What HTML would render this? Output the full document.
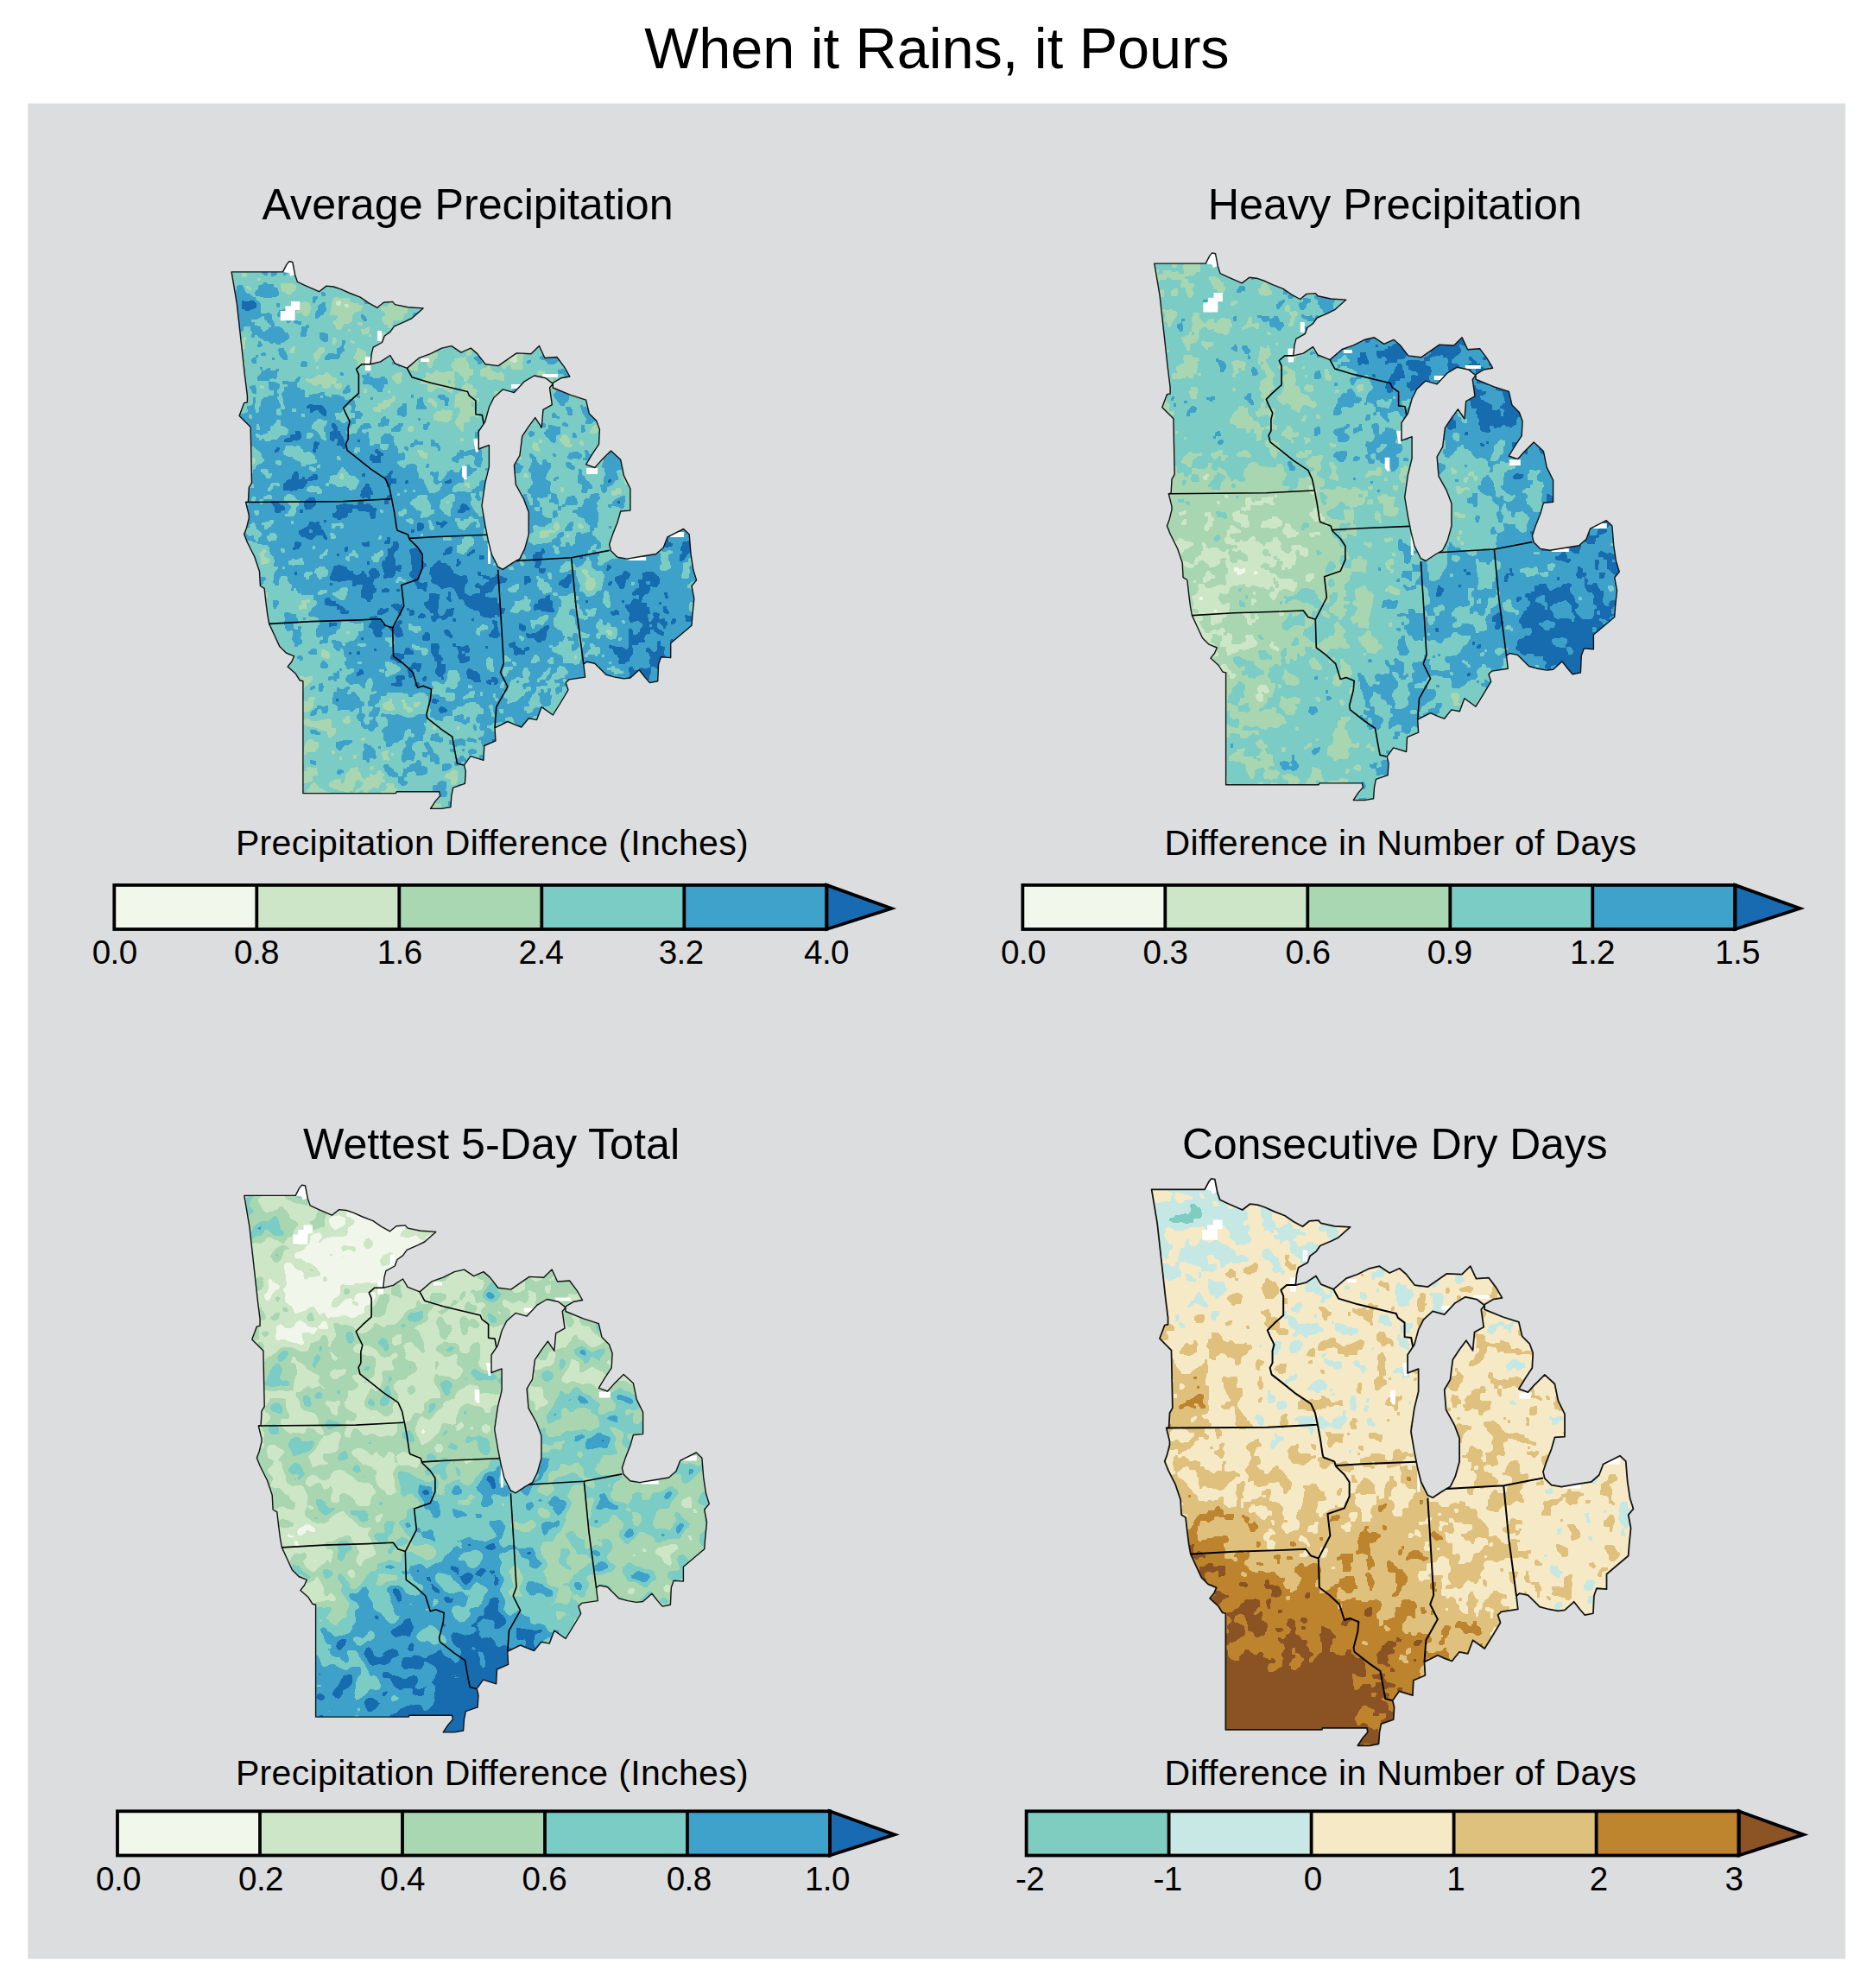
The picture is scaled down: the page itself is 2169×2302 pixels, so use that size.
<!DOCTYPE html>
<html><head><meta charset="utf-8"><title>When it Rains, it Pours</title>
<style>html,body{margin:0;padding:0;background:#fff}svg{display:block}text{font-family:"Liberation Sans",sans-serif;fill:#000}</style>
</head><body>
<svg width="2169" height="2302" viewBox="0 0 2169 2302">
<defs>
<clipPath id="clip"><path d="M0.0 -0.0 L59.4 -0.0 L64.1 -9.0 L66.9 -12.2 L70.7 -11.4 L73.5 3.1 L76.3 11.5 L86.5 16.2 L101.5 22.8 L109.9 16.2 L118.3 17.1 L126.7 19.9 L137.0 24.6 L149.1 29.3 L158.5 35.8 L168.8 41.4 L176.2 35.3 L186.5 34.5 L189.3 37.7 L204.3 40.9 L222.0 42.0 L208.9 53.6 L201.5 57.3 L188.4 62.9 L183.7 69.5 L177.2 74.1 L174.4 81.6 L164.1 87.2 L162.2 94.7 L160.9 106.8 L172.5 104.0 L183.7 96.6 L189.3 105.9 L203.3 111.5 L217.4 99.4 L230.4 94.7 L243.5 88.2 L254.7 85.7 L265.9 93.2 L277.1 88.2 L284.6 94.7 L294.0 106.8 L308.9 108.7 L330.1 94.0 L346.9 94.9 L356.3 85.6 L362.8 99.6 L376.8 98.6 L385.2 109.8 L391.8 121.1 L381.5 122.9 L372.2 128.5 L372.2 134.1 L392.7 142.5 L410.5 148.2 L414.2 164.0 L422.6 172.4 L426.3 182.7 L425.4 199.5 L417.9 210.8 L410.5 222.9 L420.7 226.6 L428.2 218.2 L439.4 207.0 L450.6 217.3 L454.4 236.0 L461.8 250.9 L461.8 276.2 L450.6 277.1 L446.9 290.2 L441.3 304.2 L437.6 315.4 L439.4 322.9 L446.9 330.3 L458.1 332.2 L474.9 329.4 L491.7 326.6 L500.2 319.1 L504.8 307.0 L523.5 297.6 L530.1 303.8 L531.9 326.2 L534.7 344.9 L538.5 357.0 L532.9 363.6 L535.7 378.5 L533.8 397.2 L532.9 409.4 L508.6 429.9 L508.6 446.7 L497.4 445.8 L494.5 454.2 L493.6 473.8 L484.3 475.7 L478.7 469.2 L472.1 460.8 L461.8 470.1 L454.4 471.0 L444.1 469.2 L433.8 466.4 L420.7 453.3 L411.4 451.4 L407.7 454.2 L409.5 469.2 L390.8 472.0 L387.1 475.7 L389.9 484.1 L381.5 498.1 L372.2 513.1 L359.1 503.7 L353.5 518.7 L344.1 516.8 L335.7 527.1 L328.2 524.3 L319.8 520.6 L304.9 528.0 L305.8 543.0 L292.7 548.6 L291.8 565.4 L276.8 560.7 L269.4 571.0 L271.2 578.5 L270.3 592.5 L256.6 597.2 L254.7 606.5 L253.8 619.6 L243.5 621.5 L230.4 621.5 L236.0 613.0 L241.6 606.5 L240.7 601.8 L191.2 601.8 L190.3 603.7 L82.8 603.7 L82.8 473.8 L79.1 472.9 L74.4 465.4 L65.1 457.0 L69.7 451.4 L72.5 444.9 L63.2 441.1 L55.7 433.7 L49.2 419.6 L43.6 407.5 L41.7 397.2 L39.8 382.3 L38.0 366.4 L33.3 363.6 L32.4 346.8 L26.7 329.9 L18.3 313.1 L14.6 303.8 L17.4 296.3 L20.2 285.1 L20.2 281.6 L16.5 266.6 L19.3 266.2 L20.2 249.8 L23.4 244.2 L22.1 179.7 L9.0 166.6 L14.6 151.7 L18.3 150.8 L18.3 143.3 L15.5 120.9 L11.8 87.2 L6.2 36.8Z M372.2 129.5 L363.7 122.9 L350.7 120.1 L339.4 126.7 L327.3 139.7 L314.2 136.0 L303.9 145.4 L298.3 156.6 L293.7 173.4 L286.2 184.6 L286.2 205.1 L298.3 200.5 L298.3 225.7 L293.7 244.4 L289.9 270.6 L293.7 293.0 L297.4 311.7 L301.1 326.6 L308.6 341.6 L314.2 344.4 L325.4 336.9 L333.8 332.2 L339.4 321.0 L344.1 304.2 L344.1 278.0 L338.5 263.1 L329.2 246.3 L327.3 223.8 L333.8 212.6 L336.6 190.2 L344.1 179.0 L351.6 168.7 L359.1 179.9 L360.9 159.4 L371.2 153.8 L368.4 134.1Z" clip-rule="evenodd"/></clipPath>
<filter id="f1" filterUnits="userSpaceOnUse" x="-20" y="-30" width="590" height="680" color-interpolation-filters="sRGB">
<feGaussianBlur in="SourceGraphic" stdDeviation="16" result="field"/>
<feTurbulence type="turbulence" baseFrequency="0.035" numOctaves="3" seed="3" result="n1"/>
<feColorMatrix in="n1" type="matrix" values="0.5 -0.5 0 0 0.5 0.5 -0.5 0 0 0.5 0.5 -0.5 0 0 0.5 0 0 0 0 1" result="ng"/>
<feComposite in="field" in2="ng" operator="arithmetic" k1="0" k2="1" k3="0.85" k4="-0.4000" result="sum"/><feMorphology in="sum" operator="erode" radius="1" result="m1"/><feMorphology in="m1" operator="dilate" radius="2" result="m2"/><feMorphology in="m2" operator="erode" radius="1" result="m3"/>
<feComponentTransfer in="m3"><feFuncR type="discrete" tableValues="0.945 0.945 0.945 0.800 0.800 0.800 0.659 0.659 0.659 0.482 0.482 0.482 0.243 0.243 0.243 0.094 0.094 0.094"/><feFuncG type="discrete" tableValues="0.969 0.969 0.969 0.902 0.902 0.902 0.843 0.843 0.843 0.800 0.800 0.800 0.635 0.635 0.635 0.420 0.420 0.420"/><feFuncB type="discrete" tableValues="0.918 0.918 0.918 0.780 0.780 0.780 0.698 0.698 0.698 0.769 0.769 0.769 0.796 0.796 0.796 0.690 0.690 0.690"/></feComponentTransfer>
</filter>
<filter id="f2" filterUnits="userSpaceOnUse" x="-20" y="-30" width="590" height="680" color-interpolation-filters="sRGB">
<feGaussianBlur in="SourceGraphic" stdDeviation="16" result="field"/>
<feTurbulence type="turbulence" baseFrequency="0.035" numOctaves="3" seed="7" result="n1"/>
<feColorMatrix in="n1" type="matrix" values="0.5 -0.5 0 0 0.5 0.5 -0.5 0 0 0.5 0.5 -0.5 0 0 0.5 0 0 0 0 1" result="ng"/>
<feComposite in="field" in2="ng" operator="arithmetic" k1="0" k2="1" k3="0.72" k4="-0.3600" result="sum"/><feMorphology in="sum" operator="erode" radius="1" result="m1"/><feMorphology in="m1" operator="dilate" radius="2" result="m2"/><feMorphology in="m2" operator="erode" radius="1" result="m3"/>
<feComponentTransfer in="m3"><feFuncR type="discrete" tableValues="0.945 0.945 0.945 0.800 0.800 0.800 0.659 0.659 0.659 0.482 0.482 0.482 0.243 0.243 0.243 0.094 0.094 0.094"/><feFuncG type="discrete" tableValues="0.969 0.969 0.969 0.902 0.902 0.902 0.843 0.843 0.843 0.800 0.800 0.800 0.635 0.635 0.635 0.420 0.420 0.420"/><feFuncB type="discrete" tableValues="0.918 0.918 0.918 0.780 0.780 0.780 0.698 0.698 0.698 0.769 0.769 0.769 0.796 0.796 0.796 0.690 0.690 0.690"/></feComponentTransfer>
</filter>
<filter id="f3" filterUnits="userSpaceOnUse" x="-20" y="-30" width="590" height="680" color-interpolation-filters="sRGB">
<feGaussianBlur in="SourceGraphic" stdDeviation="16" result="field"/>
<feTurbulence type="fractalNoise" baseFrequency="0.04" numOctaves="2" seed="11" result="noise"/>
<feColorMatrix in="noise" type="matrix" values="1 0 0 0 0 1 0 0 0 0 1 0 0 0 0 0 0 0 0 1" result="ng"/><feComponentTransfer in="ng" result="ngg"><feFuncR type="gamma" exponent="2.0"/><feFuncG type="gamma" exponent="2.0"/><feFuncB type="gamma" exponent="2.0"/></feComponentTransfer>
<feComposite in="field" in2="ngg" operator="arithmetic" k1="0" k2="1" k3="0.72" k4="-0.1633" result="sum"/>
<feComponentTransfer in="sum"><feFuncR type="discrete" tableValues="0.945 0.945 0.945 0.800 0.800 0.800 0.659 0.659 0.659 0.482 0.482 0.482 0.243 0.243 0.243 0.094 0.094 0.094"/><feFuncG type="discrete" tableValues="0.969 0.969 0.969 0.902 0.902 0.902 0.843 0.843 0.843 0.800 0.800 0.800 0.635 0.635 0.635 0.420 0.420 0.420"/><feFuncB type="discrete" tableValues="0.918 0.918 0.918 0.780 0.780 0.780 0.698 0.698 0.698 0.769 0.769 0.769 0.796 0.796 0.796 0.690 0.690 0.690"/></feComponentTransfer>
</filter>
<filter id="f4" filterUnits="userSpaceOnUse" x="-20" y="-30" width="590" height="680" color-interpolation-filters="sRGB">
<feGaussianBlur in="SourceGraphic" stdDeviation="16" result="field"/>
<feTurbulence type="fractalNoise" baseFrequency="0.048" numOctaves="3" seed="5" result="noise"/>
<feColorMatrix in="noise" type="matrix" values="1 0 0 0 0 1 0 0 0 0 1 0 0 0 0 0 0 0 0 1" result="ng"/><feComponentTransfer in="ng" result="ngg"><feFuncR type="table" tableValues="0.1 0.1 0.12 0.16 0.2 0.27 0.42 0.52 0.55 0.56 0.56"/><feFuncG type="table" tableValues="0.1 0.1 0.12 0.16 0.2 0.27 0.42 0.52 0.55 0.56 0.56"/><feFuncB type="table" tableValues="0.1 0.1 0.12 0.16 0.2 0.27 0.42 0.52 0.55 0.56 0.56"/></feComponentTransfer>
<feComposite in="field" in2="ngg" operator="arithmetic" k1="0" k2="1" k3="0.6" k4="-0.1670" result="sum"/><feMorphology in="sum" operator="erode" radius="1" result="m1"/><feMorphology in="m1" operator="dilate" radius="2" result="m2"/><feMorphology in="m2" operator="erode" radius="1" result="m3"/>
<feComponentTransfer in="m3"><feFuncR type="discrete" tableValues="0.498 0.498 0.498 0.780 0.780 0.780 0.965 0.965 0.965 0.875 0.875 0.875 0.749 0.749 0.749 0.549 0.549 0.549"/><feFuncG type="discrete" tableValues="0.804 0.804 0.804 0.910 0.910 0.910 0.914 0.914 0.914 0.757 0.757 0.757 0.518 0.518 0.518 0.329 0.329 0.329"/><feFuncB type="discrete" tableValues="0.753 0.753 0.753 0.898 0.898 0.898 0.773 0.773 0.773 0.494 0.494 0.494 0.180 0.180 0.180 0.141 0.141 0.141"/></feComponentTransfer>
</filter>
</defs>
<rect x="0" y="0" width="2169" height="2302" fill="#fff"/>
<rect x="32.3" y="119.7" width="2104.7" height="2148.5" fill="#dcddde"/>
<text x="1085" y="79" font-size="66.6" text-anchor="middle">When it Rains, it Pours</text>
<text x="541.6" y="253.8" font-size="50.2" text-anchor="middle">Average Precipitation</text>
<text x="1615.3" y="253.8" font-size="50.3" text-anchor="middle">Heavy Precipitation</text>
<text x="569" y="1341.5" font-size="50.2" text-anchor="middle">Wettest 5-Day Total</text>
<text x="1615.3" y="1341.7" font-size="49.8" text-anchor="middle">Consecutive Dry Days</text>
<text x="570" y="989.7" font-size="41" text-anchor="middle" letter-spacing="0.35">Precipitation Difference (Inches)</text>
<text x="1622" y="989.7" font-size="41" text-anchor="middle" letter-spacing="0.35">Difference in Number of Days</text>
<text x="570" y="2067.4" font-size="41" text-anchor="middle" letter-spacing="0.35">Precipitation Difference (Inches)</text>
<text x="1622" y="2067.4" font-size="41" text-anchor="middle" letter-spacing="0.35">Difference in Number of Days</text>

<g transform="translate(268.1 314.9) scale(1.0)">
<g clip-path="url(#clip)"><g filter="url(#f1)"><rect x="-60" y="-80" width="700" height="800" fill="#999999"/><rect x="-70" y="-80" width="100.5" height="100.5" fill="#909090"/><rect x="30" y="-80" width="40.5" height="100.5" fill="#a2a2a2"/><rect x="70" y="-80" width="40.5" height="100.5" fill="#959595"/><rect x="110" y="-80" width="40.5" height="100.5" fill="#8c8c8c"/><rect x="150" y="-80" width="40.5" height="100.5" fill="#808080"/><rect x="190" y="-80" width="80.5" height="100.5" fill="#8c8c8c"/><rect x="270" y="-80" width="80.5" height="100.5" fill="#808080"/><rect x="350" y="-80" width="280.5" height="100.5" fill="#888888"/><rect x="-70" y="20" width="140.5" height="40.5" fill="#a6a6a6"/><rect x="70" y="20" width="40.5" height="40.5" fill="#888888"/><rect x="110" y="20" width="40.5" height="40.5" fill="#848484"/><rect x="150" y="20" width="40.5" height="40.5" fill="#808080"/><rect x="190" y="20" width="40.5" height="40.5" fill="#8c8c8c"/><rect x="230" y="20" width="40.5" height="40.5" fill="#868686"/><rect x="270" y="20" width="80.5" height="40.5" fill="#808080"/><rect x="350" y="20" width="280.5" height="40.5" fill="#888888"/><rect x="-70" y="60" width="100.5" height="40.5" fill="#959595"/><rect x="30" y="60" width="40.5" height="40.5" fill="#a2a2a2"/><rect x="70" y="60" width="40.5" height="40.5" fill="#8c8c8c"/><rect x="110" y="60" width="80.5" height="40.5" fill="#848484"/><rect x="190" y="60" width="160.5" height="40.5" fill="#808080"/><rect x="350" y="60" width="120.5" height="40.5" fill="#888888"/><rect x="470" y="60" width="160.5" height="40.5" fill="#8c8c8c"/><rect x="-70" y="100" width="100.5" height="40.5" fill="#999999"/><rect x="30" y="100" width="40.5" height="40.5" fill="#9d9d9d"/><rect x="70" y="100" width="40.5" height="40.5" fill="#999999"/><rect x="110" y="100" width="40.5" height="40.5" fill="#8c8c8c"/><rect x="150" y="100" width="40.5" height="40.5" fill="#909090"/><rect x="190" y="100" width="40.5" height="40.5" fill="#848484"/><rect x="230" y="100" width="40.5" height="40.5" fill="#7b7b7b"/><rect x="270" y="100" width="80.5" height="40.5" fill="#848484"/><rect x="350" y="100" width="40.5" height="40.5" fill="#999999"/><rect x="390" y="100" width="40.5" height="40.5" fill="#939393"/><rect x="430" y="100" width="200.5" height="40.5" fill="#8c8c8c"/><rect x="-70" y="140" width="100.5" height="40.5" fill="#9d9d9d"/><rect x="30" y="140" width="40.5" height="40.5" fill="#a6a6a6"/><rect x="70" y="140" width="40.5" height="40.5" fill="#aeaeae"/><rect x="110" y="140" width="40.5" height="40.5" fill="#aaaaaa"/><rect x="150" y="140" width="40.5" height="40.5" fill="#999999"/><rect x="190" y="140" width="40.5" height="40.5" fill="#959595"/><rect x="230" y="140" width="80.5" height="40.5" fill="#808080"/><rect x="310" y="140" width="40.5" height="40.5" fill="#8c8c8c"/><rect x="350" y="140" width="40.5" height="40.5" fill="#999999"/><rect x="390" y="140" width="120.5" height="40.5" fill="#8c8c8c"/><rect x="510" y="140" width="120.5" height="40.5" fill="#959595"/><rect x="-70" y="180" width="100.5" height="40.5" fill="#a6a6a6"/><rect x="30" y="180" width="40.5" height="40.5" fill="#b7b7b7"/><rect x="70" y="180" width="40.5" height="40.5" fill="#b3b3b3"/><rect x="110" y="180" width="40.5" height="40.5" fill="#b7b7b7"/><rect x="150" y="180" width="40.5" height="40.5" fill="#a2a2a2"/><rect x="190" y="180" width="40.5" height="40.5" fill="#9d9d9d"/><rect x="230" y="180" width="40.5" height="40.5" fill="#909090"/><rect x="270" y="180" width="40.5" height="40.5" fill="#8c8c8c"/><rect x="310" y="180" width="80.5" height="40.5" fill="#959595"/><rect x="390" y="180" width="40.5" height="40.5" fill="#8c8c8c"/><rect x="430" y="180" width="40.5" height="40.5" fill="#909090"/><rect x="470" y="180" width="160.5" height="40.5" fill="#959595"/><rect x="-70" y="220" width="100.5" height="40.5" fill="#a2a2a2"/><rect x="30" y="220" width="80.5" height="40.5" fill="#b3b3b3"/><rect x="110" y="220" width="40.5" height="40.5" fill="#b7b7b7"/><rect x="150" y="220" width="40.5" height="40.5" fill="#b3b3b3"/><rect x="190" y="220" width="120.5" height="40.5" fill="#aaaaaa"/><rect x="310" y="220" width="40.5" height="40.5" fill="#9d9d9d"/><rect x="350" y="220" width="40.5" height="40.5" fill="#a6a6a6"/><rect x="390" y="220" width="40.5" height="40.5" fill="#999999"/><rect x="430" y="220" width="80.5" height="40.5" fill="#959595"/><rect x="510" y="220" width="120.5" height="40.5" fill="#acacac"/><rect x="-70" y="260" width="100.5" height="40.5" fill="#a6a6a6"/><rect x="30" y="260" width="40.5" height="40.5" fill="#b3b3b3"/><rect x="70" y="260" width="80.5" height="40.5" fill="#bbbbbb"/><rect x="150" y="260" width="40.5" height="40.5" fill="#b7b7b7"/><rect x="190" y="260" width="40.5" height="40.5" fill="#a6a6a6"/><rect x="230" y="260" width="120.5" height="40.5" fill="#a2a2a2"/><rect x="350" y="260" width="40.5" height="40.5" fill="#a6a6a6"/><rect x="390" y="260" width="40.5" height="40.5" fill="#999999"/><rect x="430" y="260" width="40.5" height="40.5" fill="#959595"/><rect x="470" y="260" width="40.5" height="40.5" fill="#a6a6a6"/><rect x="510" y="260" width="120.5" height="40.5" fill="#c3c3c3"/><rect x="-70" y="300" width="100.5" height="40.5" fill="#9d9d9d"/><rect x="30" y="300" width="40.5" height="40.5" fill="#aeaeae"/><rect x="70" y="300" width="40.5" height="40.5" fill="#b7b7b7"/><rect x="110" y="300" width="40.5" height="40.5" fill="#bbbbbb"/><rect x="150" y="300" width="160.5" height="40.5" fill="#bfbfbf"/><rect x="310" y="300" width="40.5" height="40.5" fill="#b3b3b3"/><rect x="350" y="300" width="40.5" height="40.5" fill="#a6a6a6"/><rect x="390" y="300" width="40.5" height="40.5" fill="#a2a2a2"/><rect x="430" y="300" width="40.5" height="40.5" fill="#aeaeae"/><rect x="470" y="300" width="40.5" height="40.5" fill="#b7b7b7"/><rect x="510" y="300" width="120.5" height="40.5" fill="#c3c3c3"/><rect x="-70" y="340" width="100.5" height="40.5" fill="#909090"/><rect x="30" y="340" width="40.5" height="40.5" fill="#a2a2a2"/><rect x="70" y="340" width="40.5" height="40.5" fill="#aeaeae"/><rect x="110" y="340" width="40.5" height="40.5" fill="#b7b7b7"/><rect x="150" y="340" width="40.5" height="40.5" fill="#c3c3c3"/><rect x="190" y="340" width="40.5" height="40.5" fill="#d0d0d0"/><rect x="230" y="340" width="40.5" height="40.5" fill="#cccccc"/><rect x="270" y="340" width="40.5" height="40.5" fill="#c8c8c8"/><rect x="310" y="340" width="40.5" height="40.5" fill="#b7b7b7"/><rect x="350" y="340" width="40.5" height="40.5" fill="#aeaeae"/><rect x="390" y="340" width="40.5" height="40.5" fill="#a6a6a6"/><rect x="430" y="340" width="40.5" height="40.5" fill="#b3b3b3"/><rect x="470" y="340" width="40.5" height="40.5" fill="#c8c8c8"/><rect x="510" y="340" width="120.5" height="40.5" fill="#b7b7b7"/><rect x="-70" y="380" width="100.5" height="40.5" fill="#8c8c8c"/><rect x="30" y="380" width="40.5" height="40.5" fill="#888888"/><rect x="70" y="380" width="40.5" height="40.5" fill="#a6a6a6"/><rect x="110" y="380" width="40.5" height="40.5" fill="#b3b3b3"/><rect x="150" y="380" width="120.5" height="40.5" fill="#cccccc"/><rect x="270" y="380" width="40.5" height="40.5" fill="#c3c3c3"/><rect x="310" y="380" width="40.5" height="40.5" fill="#bfbfbf"/><rect x="350" y="380" width="40.5" height="40.5" fill="#aeaeae"/><rect x="390" y="380" width="40.5" height="40.5" fill="#a6a6a6"/><rect x="430" y="380" width="40.5" height="40.5" fill="#bbbbbb"/><rect x="470" y="380" width="40.5" height="40.5" fill="#cccccc"/><rect x="510" y="380" width="120.5" height="40.5" fill="#c3c3c3"/><rect x="-70" y="420" width="140.5" height="40.5" fill="#808080"/><rect x="70" y="420" width="40.5" height="40.5" fill="#909090"/><rect x="110" y="420" width="40.5" height="40.5" fill="#a6a6a6"/><rect x="150" y="420" width="40.5" height="40.5" fill="#bbbbbb"/><rect x="190" y="420" width="80.5" height="40.5" fill="#c8c8c8"/><rect x="270" y="420" width="40.5" height="40.5" fill="#c3c3c3"/><rect x="310" y="420" width="40.5" height="40.5" fill="#aeaeae"/><rect x="350" y="420" width="40.5" height="40.5" fill="#aaaaaa"/><rect x="390" y="420" width="40.5" height="40.5" fill="#b3b3b3"/><rect x="430" y="420" width="40.5" height="40.5" fill="#c8c8c8"/><rect x="470" y="420" width="40.5" height="40.5" fill="#cccccc"/><rect x="510" y="420" width="120.5" height="40.5" fill="#c8c8c8"/><rect x="-70" y="460" width="100.5" height="40.5" fill="#808080"/><rect x="30" y="460" width="40.5" height="40.5" fill="#848484"/><rect x="70" y="460" width="40.5" height="40.5" fill="#888888"/><rect x="110" y="460" width="40.5" height="40.5" fill="#9d9d9d"/><rect x="150" y="460" width="40.5" height="40.5" fill="#aaaaaa"/><rect x="190" y="460" width="40.5" height="40.5" fill="#aeaeae"/><rect x="230" y="460" width="80.5" height="40.5" fill="#aaaaaa"/><rect x="310" y="460" width="40.5" height="40.5" fill="#a2a2a2"/><rect x="350" y="460" width="40.5" height="40.5" fill="#9d9d9d"/><rect x="390" y="460" width="40.5" height="40.5" fill="#a8a8a8"/><rect x="430" y="460" width="40.5" height="40.5" fill="#c8c8c8"/><rect x="470" y="460" width="160.5" height="40.5" fill="#cccccc"/><rect x="-70" y="500" width="180.5" height="40.5" fill="#848484"/><rect x="110" y="500" width="40.5" height="40.5" fill="#959595"/><rect x="150" y="500" width="80.5" height="40.5" fill="#9d9d9d"/><rect x="230" y="500" width="80.5" height="40.5" fill="#a2a2a2"/><rect x="310" y="500" width="40.5" height="40.5" fill="#b7b7b7"/><rect x="350" y="500" width="80.5" height="40.5" fill="#959595"/><rect x="430" y="500" width="40.5" height="40.5" fill="#aeaeae"/><rect x="470" y="500" width="160.5" height="40.5" fill="#cccccc"/><rect x="-70" y="540" width="180.5" height="40.5" fill="#808080"/><rect x="110" y="540" width="40.5" height="40.5" fill="#888888"/><rect x="150" y="540" width="40.5" height="40.5" fill="#909090"/><rect x="190" y="540" width="40.5" height="40.5" fill="#999999"/><rect x="230" y="540" width="80.5" height="40.5" fill="#a2a2a2"/><rect x="310" y="540" width="40.5" height="40.5" fill="#acacac"/><rect x="350" y="540" width="120.5" height="40.5" fill="#959595"/><rect x="470" y="540" width="160.5" height="40.5" fill="#cccccc"/><rect x="-70" y="580" width="220.5" height="120.5" fill="#808080"/><rect x="150" y="580" width="40.5" height="120.5" fill="#888888"/><rect x="190" y="580" width="40.5" height="120.5" fill="#909090"/><rect x="230" y="580" width="40.5" height="120.5" fill="#8c8c8c"/><rect x="270" y="580" width="40.5" height="120.5" fill="#979797"/><rect x="310" y="580" width="40.5" height="120.5" fill="#a2a2a2"/><rect x="350" y="580" width="160.5" height="120.5" fill="#959595"/><rect x="510" y="580" width="120.5" height="120.5" fill="#cccccc"/></g><path d="M56.6 45.2 L62.3 45.2 L62.3 39.6 L68.8 39.6 L68.8 34.0 L79.1 34.0 L79.1 44.2 L73.5 44.2 L73.5 56.4 L56.6 56.4Z M60.0 -0.0 L64.1 -9.0 L66.9 -12.2 L70.7 -11.4 L73.1 3.1 L67.9 5.0 L66.9 1.3Z M154.8 98.4 L161.3 98.4 L161.3 114.3 L154.8 114.3Z M266.9 224.6 L272.5 224.6 L272.5 240.4 L269.7 240.4 L266.9 236.7Z M280.0 193.7 L285.6 193.7 L285.6 208.7 L282.8 208.7Z M324.0 130.0 L336.0 130.0 L336.0 135.0 L324.0 135.0Z M360.0 118.0 L378.0 118.0 L378.0 122.0 L360.0 122.0Z M219.0 100.0 L229.0 100.0 L229.0 104.0 L219.0 104.0Z M411.0 227.0 L424.0 227.0 L424.0 234.0 L411.0 234.0Z M460.0 330.0 L480.0 330.0 L480.0 334.0 L460.0 334.0Z M508.0 301.0 L524.0 301.0 L524.0 307.0 L508.0 307.0Z M297.0 314.0 L300.0 314.0 L300.0 338.0 L297.0 338.0Z M169.0 68.0 L174.0 68.0 L174.0 80.0 L169.0 80.0Z" fill="#fff"/></g>
<path d="M0.0 -0.0 L59.4 -0.0 L64.1 -9.0 L66.9 -12.2 L70.7 -11.4 L73.5 3.1 L76.3 11.5 L86.5 16.2 L101.5 22.8 L109.9 16.2 L118.3 17.1 L126.7 19.9 L137.0 24.6 L149.1 29.3 L158.5 35.8 L168.8 41.4 L176.2 35.3 L186.5 34.5 L189.3 37.7 L204.3 40.9 L222.0 42.0 L208.9 53.6 L201.5 57.3 L188.4 62.9 L183.7 69.5 L177.2 74.1 L174.4 81.6 L164.1 87.2 L162.2 94.7 L160.9 106.8 L172.5 104.0 L183.7 96.6 L189.3 105.9 L203.3 111.5 L217.4 99.4 L230.4 94.7 L243.5 88.2 L254.7 85.7 L265.9 93.2 L277.1 88.2 L284.6 94.7 L294.0 106.8 L308.9 108.7 L330.1 94.0 L346.9 94.9 L356.3 85.6 L362.8 99.6 L376.8 98.6 L385.2 109.8 L391.8 121.1 L381.5 122.9 L372.2 128.5 L372.2 134.1 L392.7 142.5 L410.5 148.2 L414.2 164.0 L422.6 172.4 L426.3 182.7 L425.4 199.5 L417.9 210.8 L410.5 222.9 L420.7 226.6 L428.2 218.2 L439.4 207.0 L450.6 217.3 L454.4 236.0 L461.8 250.9 L461.8 276.2 L450.6 277.1 L446.9 290.2 L441.3 304.2 L437.6 315.4 L439.4 322.9 L446.9 330.3 L458.1 332.2 L474.9 329.4 L491.7 326.6 L500.2 319.1 L504.8 307.0 L523.5 297.6 L530.1 303.8 L531.9 326.2 L534.7 344.9 L538.5 357.0 L532.9 363.6 L535.7 378.5 L533.8 397.2 L532.9 409.4 L508.6 429.9 L508.6 446.7 L497.4 445.8 L494.5 454.2 L493.6 473.8 L484.3 475.7 L478.7 469.2 L472.1 460.8 L461.8 470.1 L454.4 471.0 L444.1 469.2 L433.8 466.4 L420.7 453.3 L411.4 451.4 L407.7 454.2 L409.5 469.2 L390.8 472.0 L387.1 475.7 L389.9 484.1 L381.5 498.1 L372.2 513.1 L359.1 503.7 L353.5 518.7 L344.1 516.8 L335.7 527.1 L328.2 524.3 L319.8 520.6 L304.9 528.0 L305.8 543.0 L292.7 548.6 L291.8 565.4 L276.8 560.7 L269.4 571.0 L271.2 578.5 L270.3 592.5 L256.6 597.2 L254.7 606.5 L253.8 619.6 L243.5 621.5 L230.4 621.5 L236.0 613.0 L241.6 606.5 L240.7 601.8 L191.2 601.8 L190.3 603.7 L82.8 603.7 L82.8 473.8 L79.1 472.9 L74.4 465.4 L65.1 457.0 L69.7 451.4 L72.5 444.9 L63.2 441.1 L55.7 433.7 L49.2 419.6 L43.6 407.5 L41.7 397.2 L39.8 382.3 L38.0 366.4 L33.3 363.6 L32.4 346.8 L26.7 329.9 L18.3 313.1 L14.6 303.8 L17.4 296.3 L20.2 285.1 L20.2 281.6 L16.5 266.6 L19.3 266.2 L20.2 249.8 L23.4 244.2 L22.1 179.7 L9.0 166.6 L14.6 151.7 L18.3 150.8 L18.3 143.3 L15.5 120.9 L11.8 87.2 L6.2 36.8Z M372.2 129.5 L363.7 122.9 L350.7 120.1 L339.4 126.7 L327.3 139.7 L314.2 136.0 L303.9 145.4 L298.3 156.6 L293.7 173.4 L286.2 184.6 L286.2 205.1 L298.3 200.5 L298.3 225.7 L293.7 244.4 L289.9 270.6 L293.7 293.0 L297.4 311.7 L301.1 326.6 L308.6 341.6 L314.2 344.4 L325.4 336.9 L333.8 332.2 L339.4 321.0 L344.1 304.2 L344.1 278.0 L338.5 263.1 L329.2 246.3 L327.3 223.8 L333.8 212.6 L336.6 190.2 L344.1 179.0 L351.6 168.7 L359.1 179.9 L360.9 159.4 L371.2 153.8 L368.4 134.1Z" fill="none" stroke="#111" stroke-width="1.4" stroke-linejoin="round"/>
<path d="M16.5 266.6 L129.5 265.7 L184.6 262.9 M160.9 106.8 L151.0 106.8 L144.5 112.4 L147.3 119.0 L147.3 140.5 L137.0 149.8 L129.5 157.3 L132.3 163.8 L137.0 173.2 L135.1 180.7 L135.1 193.7 L132.3 199.3 L134.2 206.8 L146.3 216.2 L161.3 228.3 L178.1 239.5 L182.8 249.8 L185.6 262.9 L188.4 277.8 L191.2 296.5 L192.1 299.3 L204.3 304.0 L206.1 309.6 L215.5 318.7 L221.1 327.1 L221.1 343.0 L215.5 356.1 L196.8 362.6 L199.6 386.9 L186.5 412.2 L187.5 444.9 L198.7 453.3 L209.9 463.6 L215.5 481.3 L222.0 479.4 L231.4 483.2 L230.4 494.4 L225.8 512.1 L226.7 516.8 L243.5 529.9 L255.7 538.3 L258.5 554.2 L261.3 569.1 L268.7 571.0 M43.6 407.5 L92.2 404.7 L142.6 403.2 L172.5 401.9 L178.1 409.4 L186.5 412.2 M203.3 111.5 L208.9 121.8 L230.4 128.3 L273.4 138.6 L275.3 143.3 L282.8 148.9 L282.8 164.8 L290.2 165.7 L292.1 176.0 M206.1 308.5 L238.8 306.6 L295.8 304.3 M308.6 344.9 L311.4 389.7 L315.2 453.3 L311.4 463.6 L319.8 480.4 L306.7 503.7 L304.9 528.0 M329.2 334.6 L393.6 330.9 L437.6 322.5 M393.6 331.8 L399.2 389.7 L403.9 425.2 L407.7 454.2" fill="none" stroke="#000" stroke-width="1.6" stroke-linejoin="round"/>
</g>
<g transform="translate(1336.8 305.1) scale(1.0)">
<g clip-path="url(#clip)"><g filter="url(#f2)"><rect x="-60" y="-80" width="700" height="800" fill="#808080"/><rect x="-70" y="-80" width="100.5" height="100.5" fill="#848484"/><rect x="30" y="-80" width="80.5" height="100.5" fill="#909090"/><rect x="110" y="-80" width="40.5" height="100.5" fill="#939393"/><rect x="150" y="-80" width="40.5" height="100.5" fill="#a2a2a2"/><rect x="190" y="-80" width="80.5" height="100.5" fill="#a6a6a6"/><rect x="270" y="-80" width="40.5" height="100.5" fill="#c3c3c3"/><rect x="310" y="-80" width="40.5" height="100.5" fill="#cccccc"/><rect x="350" y="-80" width="280.5" height="100.5" fill="#d9d9d9"/><rect x="-70" y="20" width="100.5" height="40.5" fill="#808080"/><rect x="30" y="20" width="40.5" height="40.5" fill="#909090"/><rect x="70" y="20" width="40.5" height="40.5" fill="#939393"/><rect x="110" y="20" width="40.5" height="40.5" fill="#959595"/><rect x="150" y="20" width="40.5" height="40.5" fill="#a2a2a2"/><rect x="190" y="20" width="40.5" height="40.5" fill="#a6a6a6"/><rect x="230" y="20" width="40.5" height="40.5" fill="#b7b7b7"/><rect x="270" y="20" width="40.5" height="40.5" fill="#c3c3c3"/><rect x="310" y="20" width="40.5" height="40.5" fill="#cccccc"/><rect x="350" y="20" width="280.5" height="40.5" fill="#d9d9d9"/><rect x="-70" y="60" width="100.5" height="40.5" fill="#808080"/><rect x="30" y="60" width="40.5" height="40.5" fill="#909090"/><rect x="70" y="60" width="80.5" height="40.5" fill="#959595"/><rect x="150" y="60" width="40.5" height="40.5" fill="#a2a2a2"/><rect x="190" y="60" width="40.5" height="40.5" fill="#bfbfbf"/><rect x="230" y="60" width="40.5" height="40.5" fill="#c8c8c8"/><rect x="270" y="60" width="40.5" height="40.5" fill="#c3c3c3"/><rect x="310" y="60" width="40.5" height="40.5" fill="#cccccc"/><rect x="350" y="60" width="120.5" height="40.5" fill="#d9d9d9"/><rect x="470" y="60" width="160.5" height="40.5" fill="#dddddd"/><rect x="-70" y="100" width="100.5" height="40.5" fill="#888888"/><rect x="30" y="100" width="40.5" height="40.5" fill="#8e8e8e"/><rect x="70" y="100" width="80.5" height="40.5" fill="#999999"/><rect x="150" y="100" width="40.5" height="40.5" fill="#8c8c8c"/><rect x="190" y="100" width="40.5" height="40.5" fill="#999999"/><rect x="230" y="100" width="40.5" height="40.5" fill="#c3c3c3"/><rect x="270" y="100" width="40.5" height="40.5" fill="#d9d9d9"/><rect x="310" y="100" width="40.5" height="40.5" fill="#dddddd"/><rect x="350" y="100" width="40.5" height="40.5" fill="#d9d9d9"/><rect x="390" y="100" width="40.5" height="40.5" fill="#dbdbdb"/><rect x="430" y="100" width="200.5" height="40.5" fill="#dddddd"/><rect x="-70" y="140" width="100.5" height="40.5" fill="#8c8c8c"/><rect x="30" y="140" width="80.5" height="40.5" fill="#959595"/><rect x="110" y="140" width="40.5" height="40.5" fill="#909090"/><rect x="150" y="140" width="40.5" height="40.5" fill="#848484"/><rect x="190" y="140" width="40.5" height="40.5" fill="#909090"/><rect x="230" y="140" width="40.5" height="40.5" fill="#a6a6a6"/><rect x="270" y="140" width="40.5" height="40.5" fill="#bfbfbf"/><rect x="310" y="140" width="40.5" height="40.5" fill="#c7c7c7"/><rect x="350" y="140" width="40.5" height="40.5" fill="#d9d9d9"/><rect x="390" y="140" width="120.5" height="40.5" fill="#dddddd"/><rect x="510" y="140" width="120.5" height="40.5" fill="#bfbfbf"/><rect x="-70" y="180" width="100.5" height="40.5" fill="#909090"/><rect x="30" y="180" width="80.5" height="40.5" fill="#959595"/><rect x="110" y="180" width="40.5" height="40.5" fill="#8c8c8c"/><rect x="150" y="180" width="40.5" height="40.5" fill="#909090"/><rect x="190" y="180" width="40.5" height="40.5" fill="#999999"/><rect x="230" y="180" width="40.5" height="40.5" fill="#aeaeae"/><rect x="270" y="180" width="40.5" height="40.5" fill="#b3b3b3"/><rect x="310" y="180" width="40.5" height="40.5" fill="#a6a6a6"/><rect x="350" y="180" width="40.5" height="40.5" fill="#bfbfbf"/><rect x="390" y="180" width="40.5" height="40.5" fill="#d0d0d0"/><rect x="430" y="180" width="40.5" height="40.5" fill="#c8c8c8"/><rect x="470" y="180" width="160.5" height="40.5" fill="#bfbfbf"/><rect x="-70" y="220" width="100.5" height="40.5" fill="#848484"/><rect x="30" y="220" width="40.5" height="40.5" fill="#888888"/><rect x="70" y="220" width="40.5" height="40.5" fill="#808080"/><rect x="110" y="220" width="40.5" height="40.5" fill="#7b7b7b"/><rect x="150" y="220" width="40.5" height="40.5" fill="#848484"/><rect x="190" y="220" width="40.5" height="40.5" fill="#909090"/><rect x="230" y="220" width="40.5" height="40.5" fill="#aaaaaa"/><rect x="270" y="220" width="40.5" height="40.5" fill="#999999"/><rect x="310" y="220" width="80.5" height="40.5" fill="#959595"/><rect x="390" y="220" width="40.5" height="40.5" fill="#aaaaaa"/><rect x="430" y="220" width="80.5" height="40.5" fill="#bfbfbf"/><rect x="510" y="220" width="120.5" height="40.5" fill="#cecece"/><rect x="-70" y="260" width="100.5" height="40.5" fill="#6a6a6a"/><rect x="30" y="260" width="40.5" height="40.5" fill="#666666"/><rect x="70" y="260" width="40.5" height="40.5" fill="#626262"/><rect x="110" y="260" width="40.5" height="40.5" fill="#5e5e5e"/><rect x="150" y="260" width="40.5" height="40.5" fill="#666666"/><rect x="190" y="260" width="120.5" height="40.5" fill="#7b7b7b"/><rect x="310" y="260" width="40.5" height="40.5" fill="#959595"/><rect x="350" y="260" width="40.5" height="40.5" fill="#999999"/><rect x="390" y="260" width="40.5" height="40.5" fill="#aeaeae"/><rect x="430" y="260" width="40.5" height="40.5" fill="#bfbfbf"/><rect x="470" y="260" width="40.5" height="40.5" fill="#c8c8c8"/><rect x="510" y="260" width="120.5" height="40.5" fill="#dddddd"/><rect x="-70" y="300" width="100.5" height="40.5" fill="#626262"/><rect x="30" y="300" width="40.5" height="40.5" fill="#595959"/><rect x="70" y="300" width="80.5" height="40.5" fill="#555555"/><rect x="150" y="300" width="40.5" height="40.5" fill="#5e5e5e"/><rect x="190" y="300" width="40.5" height="40.5" fill="#777777"/><rect x="230" y="300" width="40.5" height="40.5" fill="#909090"/><rect x="270" y="300" width="40.5" height="40.5" fill="#959595"/><rect x="310" y="300" width="40.5" height="40.5" fill="#aaaaaa"/><rect x="350" y="300" width="40.5" height="40.5" fill="#a2a2a2"/><rect x="390" y="300" width="40.5" height="40.5" fill="#b3b3b3"/><rect x="430" y="300" width="40.5" height="40.5" fill="#c3c3c3"/><rect x="470" y="300" width="40.5" height="40.5" fill="#d0d0d0"/><rect x="510" y="300" width="120.5" height="40.5" fill="#dddddd"/><rect x="-70" y="340" width="100.5" height="40.5" fill="#626262"/><rect x="30" y="340" width="40.5" height="40.5" fill="#555555"/><rect x="70" y="340" width="40.5" height="40.5" fill="#484848"/><rect x="110" y="340" width="40.5" height="40.5" fill="#555555"/><rect x="150" y="340" width="40.5" height="40.5" fill="#626262"/><rect x="190" y="340" width="40.5" height="40.5" fill="#808080"/><rect x="230" y="340" width="40.5" height="40.5" fill="#999999"/><rect x="270" y="340" width="40.5" height="40.5" fill="#a6a6a6"/><rect x="310" y="340" width="40.5" height="40.5" fill="#bfbfbf"/><rect x="350" y="340" width="40.5" height="40.5" fill="#b3b3b3"/><rect x="390" y="340" width="40.5" height="40.5" fill="#b7b7b7"/><rect x="430" y="340" width="40.5" height="40.5" fill="#bfbfbf"/><rect x="470" y="340" width="40.5" height="40.5" fill="#cccccc"/><rect x="510" y="340" width="120.5" height="40.5" fill="#d4d4d4"/><rect x="-70" y="380" width="100.5" height="40.5" fill="#575757"/><rect x="30" y="380" width="40.5" height="40.5" fill="#4c4c4c"/><rect x="70" y="380" width="40.5" height="40.5" fill="#555555"/><rect x="110" y="380" width="40.5" height="40.5" fill="#626262"/><rect x="150" y="380" width="40.5" height="40.5" fill="#737373"/><rect x="190" y="380" width="40.5" height="40.5" fill="#8c8c8c"/><rect x="230" y="380" width="40.5" height="40.5" fill="#959595"/><rect x="270" y="380" width="40.5" height="40.5" fill="#a6a6a6"/><rect x="310" y="380" width="40.5" height="40.5" fill="#b7b7b7"/><rect x="350" y="380" width="40.5" height="40.5" fill="#b3b3b3"/><rect x="390" y="380" width="40.5" height="40.5" fill="#bbbbbb"/><rect x="430" y="380" width="40.5" height="40.5" fill="#d9d9d9"/><rect x="470" y="380" width="40.5" height="40.5" fill="#e1e1e1"/><rect x="510" y="380" width="120.5" height="40.5" fill="#d4d4d4"/><rect x="-70" y="420" width="140.5" height="40.5" fill="#484848"/><rect x="70" y="420" width="40.5" height="40.5" fill="#595959"/><rect x="110" y="420" width="40.5" height="40.5" fill="#6a6a6a"/><rect x="150" y="420" width="40.5" height="40.5" fill="#808080"/><rect x="190" y="420" width="40.5" height="40.5" fill="#8c8c8c"/><rect x="230" y="420" width="40.5" height="40.5" fill="#909090"/><rect x="270" y="420" width="40.5" height="40.5" fill="#a2a2a2"/><rect x="310" y="420" width="80.5" height="40.5" fill="#b3b3b3"/><rect x="390" y="420" width="40.5" height="40.5" fill="#bfbfbf"/><rect x="430" y="420" width="40.5" height="40.5" fill="#e6e6e6"/><rect x="470" y="420" width="40.5" height="40.5" fill="#e1e1e1"/><rect x="510" y="420" width="120.5" height="40.5" fill="#dbdbdb"/><rect x="-70" y="460" width="100.5" height="40.5" fill="#484848"/><rect x="30" y="460" width="40.5" height="40.5" fill="#595959"/><rect x="70" y="460" width="40.5" height="40.5" fill="#6a6a6a"/><rect x="110" y="460" width="40.5" height="40.5" fill="#7b7b7b"/><rect x="150" y="460" width="40.5" height="40.5" fill="#888888"/><rect x="190" y="460" width="40.5" height="40.5" fill="#8c8c8c"/><rect x="230" y="460" width="40.5" height="40.5" fill="#a2a2a2"/><rect x="270" y="460" width="40.5" height="40.5" fill="#aaaaaa"/><rect x="310" y="460" width="80.5" height="40.5" fill="#a6a6a6"/><rect x="390" y="460" width="40.5" height="40.5" fill="#b3b3b3"/><rect x="430" y="460" width="40.5" height="40.5" fill="#e6e6e6"/><rect x="470" y="460" width="160.5" height="40.5" fill="#e1e1e1"/><rect x="-70" y="500" width="180.5" height="40.5" fill="#737373"/><rect x="110" y="500" width="40.5" height="40.5" fill="#848484"/><rect x="150" y="500" width="40.5" height="40.5" fill="#959595"/><rect x="190" y="500" width="40.5" height="40.5" fill="#909090"/><rect x="230" y="500" width="40.5" height="40.5" fill="#a2a2a2"/><rect x="270" y="500" width="40.5" height="40.5" fill="#aaaaaa"/><rect x="310" y="500" width="40.5" height="40.5" fill="#959595"/><rect x="350" y="500" width="40.5" height="40.5" fill="#9d9d9d"/><rect x="390" y="500" width="40.5" height="40.5" fill="#a6a6a6"/><rect x="430" y="500" width="40.5" height="40.5" fill="#e6e6e6"/><rect x="470" y="500" width="160.5" height="40.5" fill="#e1e1e1"/><rect x="-70" y="540" width="180.5" height="40.5" fill="#7b7b7b"/><rect x="110" y="540" width="40.5" height="40.5" fill="#848484"/><rect x="150" y="540" width="80.5" height="40.5" fill="#888888"/><rect x="230" y="540" width="40.5" height="40.5" fill="#959595"/><rect x="270" y="540" width="40.5" height="40.5" fill="#aaaaaa"/><rect x="310" y="540" width="40.5" height="40.5" fill="#9f9f9f"/><rect x="350" y="540" width="40.5" height="40.5" fill="#959595"/><rect x="390" y="540" width="40.5" height="40.5" fill="#9d9d9d"/><rect x="430" y="540" width="40.5" height="40.5" fill="#a6a6a6"/><rect x="470" y="540" width="160.5" height="40.5" fill="#e1e1e1"/><rect x="-70" y="580" width="180.5" height="120.5" fill="#848484"/><rect x="110" y="580" width="120.5" height="120.5" fill="#888888"/><rect x="230" y="580" width="40.5" height="120.5" fill="#959595"/><rect x="270" y="580" width="40.5" height="120.5" fill="#9f9f9f"/><rect x="310" y="580" width="40.5" height="120.5" fill="#aaaaaa"/><rect x="350" y="580" width="40.5" height="120.5" fill="#9f9f9f"/><rect x="390" y="580" width="40.5" height="120.5" fill="#959595"/><rect x="430" y="580" width="40.5" height="120.5" fill="#9d9d9d"/><rect x="470" y="580" width="160.5" height="120.5" fill="#e1e1e1"/></g><path d="M56.6 45.2 L62.3 45.2 L62.3 39.6 L68.8 39.6 L68.8 34.0 L79.1 34.0 L79.1 44.2 L73.5 44.2 L73.5 56.4 L56.6 56.4Z M60.0 -0.0 L64.1 -9.0 L66.9 -12.2 L70.7 -11.4 L73.1 3.1 L67.9 5.0 L66.9 1.3Z M154.8 98.4 L161.3 98.4 L161.3 114.3 L154.8 114.3Z M266.9 224.6 L272.5 224.6 L272.5 240.4 L269.7 240.4 L266.9 236.7Z M280.0 193.7 L285.6 193.7 L285.6 208.7 L282.8 208.7Z M324.0 130.0 L336.0 130.0 L336.0 135.0 L324.0 135.0Z M360.0 118.0 L378.0 118.0 L378.0 122.0 L360.0 122.0Z M219.0 100.0 L229.0 100.0 L229.0 104.0 L219.0 104.0Z M411.0 227.0 L424.0 227.0 L424.0 234.0 L411.0 234.0Z M460.0 330.0 L480.0 330.0 L480.0 334.0 L460.0 334.0Z M508.0 301.0 L524.0 301.0 L524.0 307.0 L508.0 307.0Z M297.0 314.0 L300.0 314.0 L300.0 338.0 L297.0 338.0Z M169.0 68.0 L174.0 68.0 L174.0 80.0 L169.0 80.0Z" fill="#fff"/></g>
<path d="M0.0 -0.0 L59.4 -0.0 L64.1 -9.0 L66.9 -12.2 L70.7 -11.4 L73.5 3.1 L76.3 11.5 L86.5 16.2 L101.5 22.8 L109.9 16.2 L118.3 17.1 L126.7 19.9 L137.0 24.6 L149.1 29.3 L158.5 35.8 L168.8 41.4 L176.2 35.3 L186.5 34.5 L189.3 37.7 L204.3 40.9 L222.0 42.0 L208.9 53.6 L201.5 57.3 L188.4 62.9 L183.7 69.5 L177.2 74.1 L174.4 81.6 L164.1 87.2 L162.2 94.7 L160.9 106.8 L172.5 104.0 L183.7 96.6 L189.3 105.9 L203.3 111.5 L217.4 99.4 L230.4 94.7 L243.5 88.2 L254.7 85.7 L265.9 93.2 L277.1 88.2 L284.6 94.7 L294.0 106.8 L308.9 108.7 L330.1 94.0 L346.9 94.9 L356.3 85.6 L362.8 99.6 L376.8 98.6 L385.2 109.8 L391.8 121.1 L381.5 122.9 L372.2 128.5 L372.2 134.1 L392.7 142.5 L410.5 148.2 L414.2 164.0 L422.6 172.4 L426.3 182.7 L425.4 199.5 L417.9 210.8 L410.5 222.9 L420.7 226.6 L428.2 218.2 L439.4 207.0 L450.6 217.3 L454.4 236.0 L461.8 250.9 L461.8 276.2 L450.6 277.1 L446.9 290.2 L441.3 304.2 L437.6 315.4 L439.4 322.9 L446.9 330.3 L458.1 332.2 L474.9 329.4 L491.7 326.6 L500.2 319.1 L504.8 307.0 L523.5 297.6 L530.1 303.8 L531.9 326.2 L534.7 344.9 L538.5 357.0 L532.9 363.6 L535.7 378.5 L533.8 397.2 L532.9 409.4 L508.6 429.9 L508.6 446.7 L497.4 445.8 L494.5 454.2 L493.6 473.8 L484.3 475.7 L478.7 469.2 L472.1 460.8 L461.8 470.1 L454.4 471.0 L444.1 469.2 L433.8 466.4 L420.7 453.3 L411.4 451.4 L407.7 454.2 L409.5 469.2 L390.8 472.0 L387.1 475.7 L389.9 484.1 L381.5 498.1 L372.2 513.1 L359.1 503.7 L353.5 518.7 L344.1 516.8 L335.7 527.1 L328.2 524.3 L319.8 520.6 L304.9 528.0 L305.8 543.0 L292.7 548.6 L291.8 565.4 L276.8 560.7 L269.4 571.0 L271.2 578.5 L270.3 592.5 L256.6 597.2 L254.7 606.5 L253.8 619.6 L243.5 621.5 L230.4 621.5 L236.0 613.0 L241.6 606.5 L240.7 601.8 L191.2 601.8 L190.3 603.7 L82.8 603.7 L82.8 473.8 L79.1 472.9 L74.4 465.4 L65.1 457.0 L69.7 451.4 L72.5 444.9 L63.2 441.1 L55.7 433.7 L49.2 419.6 L43.6 407.5 L41.7 397.2 L39.8 382.3 L38.0 366.4 L33.3 363.6 L32.4 346.8 L26.7 329.9 L18.3 313.1 L14.6 303.8 L17.4 296.3 L20.2 285.1 L20.2 281.6 L16.5 266.6 L19.3 266.2 L20.2 249.8 L23.4 244.2 L22.1 179.7 L9.0 166.6 L14.6 151.7 L18.3 150.8 L18.3 143.3 L15.5 120.9 L11.8 87.2 L6.2 36.8Z M372.2 129.5 L363.7 122.9 L350.7 120.1 L339.4 126.7 L327.3 139.7 L314.2 136.0 L303.9 145.4 L298.3 156.6 L293.7 173.4 L286.2 184.6 L286.2 205.1 L298.3 200.5 L298.3 225.7 L293.7 244.4 L289.9 270.6 L293.7 293.0 L297.4 311.7 L301.1 326.6 L308.6 341.6 L314.2 344.4 L325.4 336.9 L333.8 332.2 L339.4 321.0 L344.1 304.2 L344.1 278.0 L338.5 263.1 L329.2 246.3 L327.3 223.8 L333.8 212.6 L336.6 190.2 L344.1 179.0 L351.6 168.7 L359.1 179.9 L360.9 159.4 L371.2 153.8 L368.4 134.1Z" fill="none" stroke="#111" stroke-width="1.4" stroke-linejoin="round"/>
<path d="M16.5 266.6 L129.5 265.7 L184.6 262.9 M160.9 106.8 L151.0 106.8 L144.5 112.4 L147.3 119.0 L147.3 140.5 L137.0 149.8 L129.5 157.3 L132.3 163.8 L137.0 173.2 L135.1 180.7 L135.1 193.7 L132.3 199.3 L134.2 206.8 L146.3 216.2 L161.3 228.3 L178.1 239.5 L182.8 249.8 L185.6 262.9 L188.4 277.8 L191.2 296.5 L192.1 299.3 L204.3 304.0 L206.1 309.6 L215.5 318.7 L221.1 327.1 L221.1 343.0 L215.5 356.1 L196.8 362.6 L199.6 386.9 L186.5 412.2 L187.5 444.9 L198.7 453.3 L209.9 463.6 L215.5 481.3 L222.0 479.4 L231.4 483.2 L230.4 494.4 L225.8 512.1 L226.7 516.8 L243.5 529.9 L255.7 538.3 L258.5 554.2 L261.3 569.1 L268.7 571.0 M43.6 407.5 L92.2 404.7 L142.6 403.2 L172.5 401.9 L178.1 409.4 L186.5 412.2 M203.3 111.5 L208.9 121.8 L230.4 128.3 L273.4 138.6 L275.3 143.3 L282.8 148.9 L282.8 164.8 L290.2 165.7 L292.1 176.0 M206.1 308.5 L238.8 306.6 L295.8 304.3 M308.6 344.9 L311.4 389.7 L315.2 453.3 L311.4 463.6 L319.8 480.4 L306.7 503.7 L304.9 528.0 M329.2 334.6 L393.6 330.9 L437.6 322.5 M393.6 331.8 L399.2 389.7 L403.9 425.2 L407.7 454.2" fill="none" stroke="#000" stroke-width="1.6" stroke-linejoin="round"/>
</g>
<g transform="translate(282.8 1384.4) scale(1.0)">
<g clip-path="url(#clip)"><g filter="url(#f3)"><rect x="-60" y="-80" width="700" height="800" fill="#666666"/><rect x="-70" y="-80" width="100.5" height="100.5" fill="#4c4c4c"/><rect x="30" y="-80" width="40.5" height="100.5" fill="#5e5e5e"/><rect x="70" y="-80" width="40.5" height="100.5" fill="#404040"/><rect x="110" y="-80" width="40.5" height="100.5" fill="#282828"/><rect x="150" y="-80" width="120.5" height="100.5" fill="#0d0d0d"/><rect x="270" y="-80" width="40.5" height="100.5" fill="#4c4c4c"/><rect x="310" y="-80" width="40.5" height="100.5" fill="#444444"/><rect x="350" y="-80" width="280.5" height="100.5" fill="#666666"/><rect x="-70" y="20" width="100.5" height="40.5" fill="#5e5e5e"/><rect x="30" y="20" width="40.5" height="40.5" fill="#6a6a6a"/><rect x="70" y="20" width="40.5" height="40.5" fill="#262626"/><rect x="110" y="20" width="40.5" height="40.5" fill="#111111"/><rect x="150" y="20" width="80.5" height="40.5" fill="#0d0d0d"/><rect x="230" y="20" width="40.5" height="40.5" fill="#2a2a2a"/><rect x="270" y="20" width="40.5" height="40.5" fill="#4c4c4c"/><rect x="310" y="20" width="40.5" height="40.5" fill="#444444"/><rect x="350" y="20" width="280.5" height="40.5" fill="#666666"/><rect x="-70" y="60" width="100.5" height="40.5" fill="#484848"/><rect x="30" y="60" width="40.5" height="40.5" fill="#262626"/><rect x="70" y="60" width="40.5" height="40.5" fill="#111111"/><rect x="110" y="60" width="40.5" height="40.5" fill="#080808"/><rect x="150" y="60" width="40.5" height="40.5" fill="#111111"/><rect x="190" y="60" width="80.5" height="40.5" fill="#484848"/><rect x="270" y="60" width="40.5" height="40.5" fill="#4c4c4c"/><rect x="310" y="60" width="40.5" height="40.5" fill="#444444"/><rect x="350" y="60" width="120.5" height="40.5" fill="#666666"/><rect x="470" y="60" width="160.5" height="40.5" fill="#515151"/><rect x="-70" y="100" width="100.5" height="40.5" fill="#404040"/><rect x="30" y="100" width="40.5" height="40.5" fill="#1e1e1e"/><rect x="70" y="100" width="40.5" height="40.5" fill="#0d0d0d"/><rect x="110" y="100" width="40.5" height="40.5" fill="#191919"/><rect x="150" y="100" width="40.5" height="40.5" fill="#444444"/><rect x="190" y="100" width="40.5" height="40.5" fill="#555555"/><rect x="230" y="100" width="80.5" height="40.5" fill="#4c4c4c"/><rect x="310" y="100" width="40.5" height="40.5" fill="#515151"/><rect x="350" y="100" width="40.5" height="40.5" fill="#626262"/><rect x="390" y="100" width="40.5" height="40.5" fill="#595959"/><rect x="430" y="100" width="200.5" height="40.5" fill="#515151"/><rect x="-70" y="140" width="100.5" height="40.5" fill="#444444"/><rect x="30" y="140" width="40.5" height="40.5" fill="#333333"/><rect x="70" y="140" width="40.5" height="40.5" fill="#3b3b3b"/><rect x="110" y="140" width="40.5" height="40.5" fill="#626262"/><rect x="150" y="140" width="40.5" height="40.5" fill="#515151"/><rect x="190" y="140" width="40.5" height="40.5" fill="#626262"/><rect x="230" y="140" width="80.5" height="40.5" fill="#4c4c4c"/><rect x="310" y="140" width="40.5" height="40.5" fill="#545454"/><rect x="350" y="140" width="40.5" height="40.5" fill="#555555"/><rect x="390" y="140" width="120.5" height="40.5" fill="#515151"/><rect x="510" y="140" width="120.5" height="40.5" fill="#777777"/><rect x="-70" y="180" width="100.5" height="40.5" fill="#555555"/><rect x="30" y="180" width="40.5" height="40.5" fill="#6e6e6e"/><rect x="70" y="180" width="40.5" height="40.5" fill="#5e5e5e"/><rect x="110" y="180" width="40.5" height="40.5" fill="#6e6e6e"/><rect x="150" y="180" width="40.5" height="40.5" fill="#555555"/><rect x="190" y="180" width="40.5" height="40.5" fill="#515151"/><rect x="230" y="180" width="40.5" height="40.5" fill="#444444"/><rect x="270" y="180" width="40.5" height="40.5" fill="#515151"/><rect x="310" y="180" width="40.5" height="40.5" fill="#5e5e5e"/><rect x="350" y="180" width="40.5" height="40.5" fill="#555555"/><rect x="390" y="180" width="40.5" height="40.5" fill="#4c4c4c"/><rect x="430" y="180" width="40.5" height="40.5" fill="#626262"/><rect x="470" y="180" width="160.5" height="40.5" fill="#777777"/><rect x="-70" y="220" width="100.5" height="40.5" fill="#4c4c4c"/><rect x="30" y="220" width="40.5" height="40.5" fill="#555555"/><rect x="70" y="220" width="40.5" height="40.5" fill="#515151"/><rect x="110" y="220" width="40.5" height="40.5" fill="#484848"/><rect x="150" y="220" width="80.5" height="40.5" fill="#444444"/><rect x="230" y="220" width="80.5" height="40.5" fill="#5e5e5e"/><rect x="310" y="220" width="40.5" height="40.5" fill="#626262"/><rect x="350" y="220" width="40.5" height="40.5" fill="#777777"/><rect x="390" y="220" width="40.5" height="40.5" fill="#737373"/><rect x="430" y="220" width="80.5" height="40.5" fill="#777777"/><rect x="510" y="220" width="120.5" height="40.5" fill="#737373"/><rect x="-70" y="260" width="100.5" height="40.5" fill="#5e5e5e"/><rect x="30" y="260" width="40.5" height="40.5" fill="#555555"/><rect x="70" y="260" width="40.5" height="40.5" fill="#626262"/><rect x="110" y="260" width="40.5" height="40.5" fill="#515151"/><rect x="150" y="260" width="40.5" height="40.5" fill="#4c4c4c"/><rect x="190" y="260" width="40.5" height="40.5" fill="#484848"/><rect x="230" y="260" width="40.5" height="40.5" fill="#515151"/><rect x="270" y="260" width="40.5" height="40.5" fill="#626262"/><rect x="310" y="260" width="40.5" height="40.5" fill="#777777"/><rect x="350" y="260" width="120.5" height="40.5" fill="#888888"/><rect x="470" y="260" width="40.5" height="40.5" fill="#828282"/><rect x="510" y="260" width="120.5" height="40.5" fill="#6e6e6e"/><rect x="-70" y="300" width="100.5" height="40.5" fill="#666666"/><rect x="30" y="300" width="40.5" height="40.5" fill="#5e5e5e"/><rect x="70" y="300" width="40.5" height="40.5" fill="#555555"/><rect x="110" y="300" width="40.5" height="40.5" fill="#515151"/><rect x="150" y="300" width="40.5" height="40.5" fill="#555555"/><rect x="190" y="300" width="40.5" height="40.5" fill="#737373"/><rect x="230" y="300" width="40.5" height="40.5" fill="#777777"/><rect x="270" y="300" width="40.5" height="40.5" fill="#a2a2a2"/><rect x="310" y="300" width="40.5" height="40.5" fill="#999999"/><rect x="350" y="300" width="40.5" height="40.5" fill="#848484"/><rect x="390" y="300" width="40.5" height="40.5" fill="#888888"/><rect x="430" y="300" width="40.5" height="40.5" fill="#6e6e6e"/><rect x="470" y="300" width="40.5" height="40.5" fill="#7b7b7b"/><rect x="510" y="300" width="120.5" height="40.5" fill="#6e6e6e"/><rect x="-70" y="340" width="100.5" height="40.5" fill="#5e5e5e"/><rect x="30" y="340" width="40.5" height="40.5" fill="#555555"/><rect x="70" y="340" width="80.5" height="40.5" fill="#515151"/><rect x="150" y="340" width="40.5" height="40.5" fill="#626262"/><rect x="190" y="340" width="40.5" height="40.5" fill="#9d9d9d"/><rect x="230" y="340" width="40.5" height="40.5" fill="#909090"/><rect x="270" y="340" width="40.5" height="40.5" fill="#a6a6a6"/><rect x="310" y="340" width="40.5" height="40.5" fill="#8c8c8c"/><rect x="350" y="340" width="80.5" height="40.5" fill="#7b7b7b"/><rect x="430" y="340" width="40.5" height="40.5" fill="#808080"/><rect x="470" y="340" width="40.5" height="40.5" fill="#848484"/><rect x="510" y="340" width="120.5" height="40.5" fill="#666666"/><rect x="-70" y="380" width="100.5" height="40.5" fill="#484848"/><rect x="30" y="380" width="40.5" height="40.5" fill="#333333"/><rect x="70" y="380" width="40.5" height="40.5" fill="#444444"/><rect x="110" y="380" width="40.5" height="40.5" fill="#515151"/><rect x="150" y="380" width="40.5" height="40.5" fill="#6e6e6e"/><rect x="190" y="380" width="40.5" height="40.5" fill="#999999"/><rect x="230" y="380" width="40.5" height="40.5" fill="#aaaaaa"/><rect x="270" y="380" width="40.5" height="40.5" fill="#9d9d9d"/><rect x="310" y="380" width="40.5" height="40.5" fill="#959595"/><rect x="350" y="380" width="40.5" height="40.5" fill="#6e6e6e"/><rect x="390" y="380" width="40.5" height="40.5" fill="#737373"/><rect x="430" y="380" width="40.5" height="40.5" fill="#7b7b7b"/><rect x="470" y="380" width="40.5" height="40.5" fill="#737373"/><rect x="510" y="380" width="120.5" height="40.5" fill="#626262"/><rect x="-70" y="420" width="140.5" height="40.5" fill="#2a2a2a"/><rect x="70" y="420" width="40.5" height="40.5" fill="#515151"/><rect x="110" y="420" width="40.5" height="40.5" fill="#666666"/><rect x="150" y="420" width="40.5" height="40.5" fill="#888888"/><rect x="190" y="420" width="40.5" height="40.5" fill="#999999"/><rect x="230" y="420" width="40.5" height="40.5" fill="#b3b3b3"/><rect x="270" y="420" width="40.5" height="40.5" fill="#aaaaaa"/><rect x="310" y="420" width="40.5" height="40.5" fill="#8c8c8c"/><rect x="350" y="420" width="80.5" height="40.5" fill="#7b7b7b"/><rect x="430" y="420" width="40.5" height="40.5" fill="#6e6e6e"/><rect x="470" y="420" width="40.5" height="40.5" fill="#666666"/><rect x="510" y="420" width="120.5" height="40.5" fill="#646464"/><rect x="-70" y="460" width="100.5" height="40.5" fill="#2a2a2a"/><rect x="30" y="460" width="40.5" height="40.5" fill="#4a4a4a"/><rect x="70" y="460" width="40.5" height="40.5" fill="#6a6a6a"/><rect x="110" y="460" width="40.5" height="40.5" fill="#959595"/><rect x="150" y="460" width="40.5" height="40.5" fill="#bfbfbf"/><rect x="190" y="460" width="40.5" height="40.5" fill="#b7b7b7"/><rect x="230" y="460" width="40.5" height="40.5" fill="#a2a2a2"/><rect x="270" y="460" width="40.5" height="40.5" fill="#b3b3b3"/><rect x="310" y="460" width="40.5" height="40.5" fill="#999999"/><rect x="350" y="460" width="40.5" height="40.5" fill="#808080"/><rect x="390" y="460" width="40.5" height="40.5" fill="#7d7d7d"/><rect x="430" y="460" width="40.5" height="40.5" fill="#6e6e6e"/><rect x="470" y="460" width="160.5" height="40.5" fill="#666666"/><rect x="-70" y="500" width="180.5" height="40.5" fill="#9d9d9d"/><rect x="110" y="500" width="40.5" height="40.5" fill="#b3b3b3"/><rect x="150" y="500" width="40.5" height="40.5" fill="#d9d9d9"/><rect x="190" y="500" width="40.5" height="40.5" fill="#bbbbbb"/><rect x="230" y="500" width="40.5" height="40.5" fill="#cccccc"/><rect x="270" y="500" width="40.5" height="40.5" fill="#eeeeee"/><rect x="310" y="500" width="40.5" height="40.5" fill="#dddddd"/><rect x="350" y="500" width="80.5" height="40.5" fill="#959595"/><rect x="430" y="500" width="40.5" height="40.5" fill="#828282"/><rect x="470" y="500" width="160.5" height="40.5" fill="#666666"/><rect x="-70" y="540" width="180.5" height="40.5" fill="#c3c3c3"/><rect x="110" y="540" width="40.5" height="40.5" fill="#b3b3b3"/><rect x="150" y="540" width="40.5" height="40.5" fill="#a6a6a6"/><rect x="190" y="540" width="40.5" height="40.5" fill="#dddddd"/><rect x="230" y="540" width="40.5" height="40.5" fill="#f6f6f6"/><rect x="270" y="540" width="80.5" height="40.5" fill="#dddddd"/><rect x="350" y="540" width="120.5" height="40.5" fill="#959595"/><rect x="470" y="540" width="160.5" height="40.5" fill="#666666"/><rect x="-70" y="580" width="180.5" height="120.5" fill="#aeaeae"/><rect x="110" y="580" width="40.5" height="120.5" fill="#aaaaaa"/><rect x="150" y="580" width="40.5" height="120.5" fill="#cccccc"/><rect x="190" y="580" width="40.5" height="120.5" fill="#fbfbfb"/><rect x="230" y="580" width="40.5" height="120.5" fill="#eeeeee"/><rect x="270" y="580" width="40.5" height="120.5" fill="#e6e6e6"/><rect x="310" y="580" width="40.5" height="120.5" fill="#dddddd"/><rect x="350" y="580" width="160.5" height="120.5" fill="#959595"/><rect x="510" y="580" width="120.5" height="120.5" fill="#666666"/></g><path d="M56.6 45.2 L62.3 45.2 L62.3 39.6 L68.8 39.6 L68.8 34.0 L79.1 34.0 L79.1 44.2 L73.5 44.2 L73.5 56.4 L56.6 56.4Z M60.0 -0.0 L64.1 -9.0 L66.9 -12.2 L70.7 -11.4 L73.1 3.1 L67.9 5.0 L66.9 1.3Z M154.8 98.4 L161.3 98.4 L161.3 114.3 L154.8 114.3Z M266.9 224.6 L272.5 224.6 L272.5 240.4 L269.7 240.4 L266.9 236.7Z M280.0 193.7 L285.6 193.7 L285.6 208.7 L282.8 208.7Z M324.0 130.0 L336.0 130.0 L336.0 135.0 L324.0 135.0Z M360.0 118.0 L378.0 118.0 L378.0 122.0 L360.0 122.0Z M219.0 100.0 L229.0 100.0 L229.0 104.0 L219.0 104.0Z M411.0 227.0 L424.0 227.0 L424.0 234.0 L411.0 234.0Z M460.0 330.0 L480.0 330.0 L480.0 334.0 L460.0 334.0Z M508.0 301.0 L524.0 301.0 L524.0 307.0 L508.0 307.0Z M297.0 314.0 L300.0 314.0 L300.0 338.0 L297.0 338.0Z M169.0 68.0 L174.0 68.0 L174.0 80.0 L169.0 80.0Z" fill="#fff"/></g>
<path d="M0.0 -0.0 L59.4 -0.0 L64.1 -9.0 L66.9 -12.2 L70.7 -11.4 L73.5 3.1 L76.3 11.5 L86.5 16.2 L101.5 22.8 L109.9 16.2 L118.3 17.1 L126.7 19.9 L137.0 24.6 L149.1 29.3 L158.5 35.8 L168.8 41.4 L176.2 35.3 L186.5 34.5 L189.3 37.7 L204.3 40.9 L222.0 42.0 L208.9 53.6 L201.5 57.3 L188.4 62.9 L183.7 69.5 L177.2 74.1 L174.4 81.6 L164.1 87.2 L162.2 94.7 L160.9 106.8 L172.5 104.0 L183.7 96.6 L189.3 105.9 L203.3 111.5 L217.4 99.4 L230.4 94.7 L243.5 88.2 L254.7 85.7 L265.9 93.2 L277.1 88.2 L284.6 94.7 L294.0 106.8 L308.9 108.7 L330.1 94.0 L346.9 94.9 L356.3 85.6 L362.8 99.6 L376.8 98.6 L385.2 109.8 L391.8 121.1 L381.5 122.9 L372.2 128.5 L372.2 134.1 L392.7 142.5 L410.5 148.2 L414.2 164.0 L422.6 172.4 L426.3 182.7 L425.4 199.5 L417.9 210.8 L410.5 222.9 L420.7 226.6 L428.2 218.2 L439.4 207.0 L450.6 217.3 L454.4 236.0 L461.8 250.9 L461.8 276.2 L450.6 277.1 L446.9 290.2 L441.3 304.2 L437.6 315.4 L439.4 322.9 L446.9 330.3 L458.1 332.2 L474.9 329.4 L491.7 326.6 L500.2 319.1 L504.8 307.0 L523.5 297.6 L530.1 303.8 L531.9 326.2 L534.7 344.9 L538.5 357.0 L532.9 363.6 L535.7 378.5 L533.8 397.2 L532.9 409.4 L508.6 429.9 L508.6 446.7 L497.4 445.8 L494.5 454.2 L493.6 473.8 L484.3 475.7 L478.7 469.2 L472.1 460.8 L461.8 470.1 L454.4 471.0 L444.1 469.2 L433.8 466.4 L420.7 453.3 L411.4 451.4 L407.7 454.2 L409.5 469.2 L390.8 472.0 L387.1 475.7 L389.9 484.1 L381.5 498.1 L372.2 513.1 L359.1 503.7 L353.5 518.7 L344.1 516.8 L335.7 527.1 L328.2 524.3 L319.8 520.6 L304.9 528.0 L305.8 543.0 L292.7 548.6 L291.8 565.4 L276.8 560.7 L269.4 571.0 L271.2 578.5 L270.3 592.5 L256.6 597.2 L254.7 606.5 L253.8 619.6 L243.5 621.5 L230.4 621.5 L236.0 613.0 L241.6 606.5 L240.7 601.8 L191.2 601.8 L190.3 603.7 L82.8 603.7 L82.8 473.8 L79.1 472.9 L74.4 465.4 L65.1 457.0 L69.7 451.4 L72.5 444.9 L63.2 441.1 L55.7 433.7 L49.2 419.6 L43.6 407.5 L41.7 397.2 L39.8 382.3 L38.0 366.4 L33.3 363.6 L32.4 346.8 L26.7 329.9 L18.3 313.1 L14.6 303.8 L17.4 296.3 L20.2 285.1 L20.2 281.6 L16.5 266.6 L19.3 266.2 L20.2 249.8 L23.4 244.2 L22.1 179.7 L9.0 166.6 L14.6 151.7 L18.3 150.8 L18.3 143.3 L15.5 120.9 L11.8 87.2 L6.2 36.8Z M372.2 129.5 L363.7 122.9 L350.7 120.1 L339.4 126.7 L327.3 139.7 L314.2 136.0 L303.9 145.4 L298.3 156.6 L293.7 173.4 L286.2 184.6 L286.2 205.1 L298.3 200.5 L298.3 225.7 L293.7 244.4 L289.9 270.6 L293.7 293.0 L297.4 311.7 L301.1 326.6 L308.6 341.6 L314.2 344.4 L325.4 336.9 L333.8 332.2 L339.4 321.0 L344.1 304.2 L344.1 278.0 L338.5 263.1 L329.2 246.3 L327.3 223.8 L333.8 212.6 L336.6 190.2 L344.1 179.0 L351.6 168.7 L359.1 179.9 L360.9 159.4 L371.2 153.8 L368.4 134.1Z" fill="none" stroke="#111" stroke-width="1.4" stroke-linejoin="round"/>
<path d="M16.5 266.6 L129.5 265.7 L184.6 262.9 M160.9 106.8 L151.0 106.8 L144.5 112.4 L147.3 119.0 L147.3 140.5 L137.0 149.8 L129.5 157.3 L132.3 163.8 L137.0 173.2 L135.1 180.7 L135.1 193.7 L132.3 199.3 L134.2 206.8 L146.3 216.2 L161.3 228.3 L178.1 239.5 L182.8 249.8 L185.6 262.9 L188.4 277.8 L191.2 296.5 L192.1 299.3 L204.3 304.0 L206.1 309.6 L215.5 318.7 L221.1 327.1 L221.1 343.0 L215.5 356.1 L196.8 362.6 L199.6 386.9 L186.5 412.2 L187.5 444.9 L198.7 453.3 L209.9 463.6 L215.5 481.3 L222.0 479.4 L231.4 483.2 L230.4 494.4 L225.8 512.1 L226.7 516.8 L243.5 529.9 L255.7 538.3 L258.5 554.2 L261.3 569.1 L268.7 571.0 M43.6 407.5 L92.2 404.7 L142.6 403.2 L172.5 401.9 L178.1 409.4 L186.5 412.2 M203.3 111.5 L208.9 121.8 L230.4 128.3 L273.4 138.6 L275.3 143.3 L282.8 148.9 L282.8 164.8 L290.2 165.7 L292.1 176.0 M206.1 308.5 L238.8 306.6 L295.8 304.3 M308.6 344.9 L311.4 389.7 L315.2 453.3 L311.4 463.6 L319.8 480.4 L306.7 503.7 L304.9 528.0 M329.2 334.6 L393.6 330.9 L437.6 322.5 M393.6 331.8 L399.2 389.7 L403.9 425.2 L407.7 454.2" fill="none" stroke="#000" stroke-width="1.6" stroke-linejoin="round"/>
</g>
<g transform="translate(1333.6 1377.4) scale(1.036)">
<g clip-path="url(#clip)"><g filter="url(#f4)"><rect x="-60" y="-80" width="700" height="800" fill="#808080"/><rect x="-70" y="-80" width="100.5" height="100.5" fill="#373737"/><rect x="30" y="-80" width="40.5" height="100.5" fill="#2f2f2f"/><rect x="70" y="-80" width="40.5" height="100.5" fill="#404040"/><rect x="110" y="-80" width="40.5" height="100.5" fill="#4a4a4a"/><rect x="150" y="-80" width="40.5" height="100.5" fill="#595959"/><rect x="190" y="-80" width="80.5" height="100.5" fill="#555555"/><rect x="270" y="-80" width="40.5" height="100.5" fill="#5e5e5e"/><rect x="310" y="-80" width="320.5" height="100.5" fill="#626262"/><rect x="-70" y="20" width="100.5" height="40.5" fill="#444444"/><rect x="30" y="20" width="40.5" height="40.5" fill="#373737"/><rect x="70" y="20" width="40.5" height="40.5" fill="#4c4c4c"/><rect x="110" y="20" width="40.5" height="40.5" fill="#555555"/><rect x="150" y="20" width="40.5" height="40.5" fill="#595959"/><rect x="190" y="20" width="40.5" height="40.5" fill="#555555"/><rect x="230" y="20" width="40.5" height="40.5" fill="#5b5b5b"/><rect x="270" y="20" width="40.5" height="40.5" fill="#5e5e5e"/><rect x="310" y="20" width="320.5" height="40.5" fill="#626262"/><rect x="-70" y="60" width="100.5" height="40.5" fill="#5e5e5e"/><rect x="30" y="60" width="80.5" height="40.5" fill="#515151"/><rect x="110" y="60" width="40.5" height="40.5" fill="#666666"/><rect x="150" y="60" width="40.5" height="40.5" fill="#595959"/><rect x="190" y="60" width="40.5" height="40.5" fill="#5e5e5e"/><rect x="230" y="60" width="40.5" height="40.5" fill="#626262"/><rect x="270" y="60" width="40.5" height="40.5" fill="#5e5e5e"/><rect x="310" y="60" width="160.5" height="40.5" fill="#626262"/><rect x="470" y="60" width="160.5" height="40.5" fill="#666666"/><rect x="-70" y="100" width="100.5" height="40.5" fill="#626262"/><rect x="30" y="100" width="40.5" height="40.5" fill="#5e5e5e"/><rect x="70" y="100" width="40.5" height="40.5" fill="#6a6a6a"/><rect x="110" y="100" width="40.5" height="40.5" fill="#737373"/><rect x="150" y="100" width="40.5" height="40.5" fill="#595959"/><rect x="190" y="100" width="80.5" height="40.5" fill="#626262"/><rect x="270" y="100" width="40.5" height="40.5" fill="#555555"/><rect x="310" y="100" width="80.5" height="40.5" fill="#626262"/><rect x="390" y="100" width="40.5" height="40.5" fill="#646464"/><rect x="430" y="100" width="200.5" height="40.5" fill="#666666"/><rect x="-70" y="140" width="100.5" height="40.5" fill="#626262"/><rect x="30" y="140" width="40.5" height="40.5" fill="#6a6a6a"/><rect x="70" y="140" width="40.5" height="40.5" fill="#6e6e6e"/><rect x="110" y="140" width="40.5" height="40.5" fill="#6a6a6a"/><rect x="150" y="140" width="40.5" height="40.5" fill="#595959"/><rect x="190" y="140" width="40.5" height="40.5" fill="#666666"/><rect x="230" y="140" width="40.5" height="40.5" fill="#6a6a6a"/><rect x="270" y="140" width="40.5" height="40.5" fill="#666666"/><rect x="310" y="140" width="40.5" height="40.5" fill="#676767"/><rect x="350" y="140" width="40.5" height="40.5" fill="#6a6a6a"/><rect x="390" y="140" width="120.5" height="40.5" fill="#666666"/><rect x="510" y="140" width="120.5" height="40.5" fill="#6a6a6a"/><rect x="-70" y="180" width="100.5" height="40.5" fill="#848484"/><rect x="30" y="180" width="40.5" height="40.5" fill="#888888"/><rect x="70" y="180" width="80.5" height="40.5" fill="#6a6a6a"/><rect x="150" y="180" width="40.5" height="40.5" fill="#626262"/><rect x="190" y="180" width="40.5" height="40.5" fill="#666666"/><rect x="230" y="180" width="40.5" height="40.5" fill="#6a6a6a"/><rect x="270" y="180" width="40.5" height="40.5" fill="#626262"/><rect x="310" y="180" width="40.5" height="40.5" fill="#6a6a6a"/><rect x="350" y="180" width="40.5" height="40.5" fill="#6e6e6e"/><rect x="390" y="180" width="40.5" height="40.5" fill="#666666"/><rect x="430" y="180" width="40.5" height="40.5" fill="#686868"/><rect x="470" y="180" width="160.5" height="40.5" fill="#6a6a6a"/><rect x="-70" y="220" width="100.5" height="40.5" fill="#999999"/><rect x="30" y="220" width="40.5" height="40.5" fill="#959595"/><rect x="70" y="220" width="40.5" height="40.5" fill="#6e6e6e"/><rect x="110" y="220" width="40.5" height="40.5" fill="#666666"/><rect x="150" y="220" width="40.5" height="40.5" fill="#626262"/><rect x="190" y="220" width="40.5" height="40.5" fill="#5e5e5e"/><rect x="230" y="220" width="40.5" height="40.5" fill="#626262"/><rect x="270" y="220" width="80.5" height="40.5" fill="#666666"/><rect x="350" y="220" width="40.5" height="40.5" fill="#737373"/><rect x="390" y="220" width="120.5" height="40.5" fill="#6a6a6a"/><rect x="510" y="220" width="120.5" height="40.5" fill="#666666"/><rect x="-70" y="260" width="100.5" height="40.5" fill="#808080"/><rect x="30" y="260" width="40.5" height="40.5" fill="#777777"/><rect x="70" y="260" width="40.5" height="40.5" fill="#737373"/><rect x="110" y="260" width="40.5" height="40.5" fill="#666666"/><rect x="150" y="260" width="80.5" height="40.5" fill="#626262"/><rect x="230" y="260" width="120.5" height="40.5" fill="#6a6a6a"/><rect x="350" y="260" width="40.5" height="40.5" fill="#777777"/><rect x="390" y="260" width="40.5" height="40.5" fill="#717171"/><rect x="430" y="260" width="40.5" height="40.5" fill="#686868"/><rect x="470" y="260" width="40.5" height="40.5" fill="#676767"/><rect x="510" y="260" width="120.5" height="40.5" fill="#626262"/><rect x="-70" y="300" width="100.5" height="40.5" fill="#808080"/><rect x="30" y="300" width="40.5" height="40.5" fill="#777777"/><rect x="70" y="300" width="80.5" height="40.5" fill="#7b7b7b"/><rect x="150" y="300" width="80.5" height="40.5" fill="#737373"/><rect x="230" y="300" width="40.5" height="40.5" fill="#808080"/><rect x="270" y="300" width="40.5" height="40.5" fill="#848484"/><rect x="310" y="300" width="80.5" height="40.5" fill="#808080"/><rect x="390" y="300" width="40.5" height="40.5" fill="#737373"/><rect x="430" y="300" width="80.5" height="40.5" fill="#666666"/><rect x="510" y="300" width="120.5" height="40.5" fill="#626262"/><rect x="-70" y="340" width="140.5" height="40.5" fill="#909090"/><rect x="70" y="340" width="40.5" height="40.5" fill="#848484"/><rect x="110" y="340" width="40.5" height="40.5" fill="#808080"/><rect x="150" y="340" width="40.5" height="40.5" fill="#7b7b7b"/><rect x="190" y="340" width="40.5" height="40.5" fill="#848484"/><rect x="230" y="340" width="40.5" height="40.5" fill="#888888"/><rect x="270" y="340" width="40.5" height="40.5" fill="#8c8c8c"/><rect x="310" y="340" width="40.5" height="40.5" fill="#848484"/><rect x="350" y="340" width="40.5" height="40.5" fill="#7b7b7b"/><rect x="390" y="340" width="40.5" height="40.5" fill="#6e6e6e"/><rect x="430" y="340" width="80.5" height="40.5" fill="#686868"/><rect x="510" y="340" width="120.5" height="40.5" fill="#626262"/><rect x="-70" y="380" width="100.5" height="40.5" fill="#aaaaaa"/><rect x="30" y="380" width="40.5" height="40.5" fill="#c3c3c3"/><rect x="70" y="380" width="40.5" height="40.5" fill="#a6a6a6"/><rect x="110" y="380" width="40.5" height="40.5" fill="#909090"/><rect x="150" y="380" width="40.5" height="40.5" fill="#888888"/><rect x="190" y="380" width="40.5" height="40.5" fill="#959595"/><rect x="230" y="380" width="40.5" height="40.5" fill="#a2a2a2"/><rect x="270" y="380" width="40.5" height="40.5" fill="#909090"/><rect x="310" y="380" width="40.5" height="40.5" fill="#808080"/><rect x="350" y="380" width="40.5" height="40.5" fill="#777777"/><rect x="390" y="380" width="40.5" height="40.5" fill="#737373"/><rect x="430" y="380" width="40.5" height="40.5" fill="#646464"/><rect x="470" y="380" width="40.5" height="40.5" fill="#666666"/><rect x="510" y="380" width="120.5" height="40.5" fill="#646464"/><rect x="-70" y="420" width="140.5" height="40.5" fill="#d0d0d0"/><rect x="70" y="420" width="40.5" height="40.5" fill="#c3c3c3"/><rect x="110" y="420" width="40.5" height="40.5" fill="#bbbbbb"/><rect x="150" y="420" width="40.5" height="40.5" fill="#aaaaaa"/><rect x="190" y="420" width="40.5" height="40.5" fill="#959595"/><rect x="230" y="420" width="40.5" height="40.5" fill="#a2a2a2"/><rect x="270" y="420" width="40.5" height="40.5" fill="#959595"/><rect x="310" y="420" width="40.5" height="40.5" fill="#808080"/><rect x="350" y="420" width="40.5" height="40.5" fill="#7b7b7b"/><rect x="390" y="420" width="40.5" height="40.5" fill="#757575"/><rect x="430" y="420" width="80.5" height="40.5" fill="#666666"/><rect x="510" y="420" width="120.5" height="40.5" fill="#656565"/><rect x="-70" y="460" width="100.5" height="40.5" fill="#d0d0d0"/><rect x="30" y="460" width="40.5" height="40.5" fill="#cccccc"/><rect x="70" y="460" width="40.5" height="40.5" fill="#c8c8c8"/><rect x="110" y="460" width="80.5" height="40.5" fill="#cccccc"/><rect x="190" y="460" width="40.5" height="40.5" fill="#bfbfbf"/><rect x="230" y="460" width="40.5" height="40.5" fill="#b3b3b3"/><rect x="270" y="460" width="40.5" height="40.5" fill="#aaaaaa"/><rect x="310" y="460" width="40.5" height="40.5" fill="#8c8c8c"/><rect x="350" y="460" width="40.5" height="40.5" fill="#888888"/><rect x="390" y="460" width="40.5" height="40.5" fill="#7e7e7e"/><rect x="430" y="460" width="200.5" height="40.5" fill="#666666"/><rect x="-70" y="500" width="180.5" height="40.5" fill="#dddddd"/><rect x="110" y="500" width="80.5" height="40.5" fill="#d4d4d4"/><rect x="190" y="500" width="40.5" height="40.5" fill="#d9d9d9"/><rect x="230" y="500" width="40.5" height="40.5" fill="#c3c3c3"/><rect x="270" y="500" width="40.5" height="40.5" fill="#bbbbbb"/><rect x="310" y="500" width="40.5" height="40.5" fill="#aaaaaa"/><rect x="350" y="500" width="80.5" height="40.5" fill="#8c8c8c"/><rect x="430" y="500" width="40.5" height="40.5" fill="#797979"/><rect x="470" y="500" width="160.5" height="40.5" fill="#666666"/><rect x="-70" y="540" width="260.5" height="40.5" fill="#f6f6f6"/><rect x="190" y="540" width="40.5" height="40.5" fill="#f2f2f2"/><rect x="230" y="540" width="40.5" height="40.5" fill="#d4d4d4"/><rect x="270" y="540" width="40.5" height="40.5" fill="#bfbfbf"/><rect x="310" y="540" width="40.5" height="40.5" fill="#b5b5b5"/><rect x="350" y="540" width="120.5" height="40.5" fill="#8c8c8c"/><rect x="470" y="540" width="160.5" height="40.5" fill="#666666"/><rect x="-70" y="580" width="260.5" height="120.5" fill="#fbfbfb"/><rect x="190" y="580" width="40.5" height="120.5" fill="#f6f6f6"/><rect x="230" y="580" width="40.5" height="120.5" fill="#d4d4d4"/><rect x="270" y="580" width="40.5" height="120.5" fill="#cacaca"/><rect x="310" y="580" width="40.5" height="120.5" fill="#bfbfbf"/><rect x="350" y="580" width="160.5" height="120.5" fill="#8c8c8c"/><rect x="510" y="580" width="120.5" height="120.5" fill="#666666"/></g><path d="M56.6 45.2 L62.3 45.2 L62.3 39.6 L68.8 39.6 L68.8 34.0 L79.1 34.0 L79.1 44.2 L73.5 44.2 L73.5 56.4 L56.6 56.4Z M60.0 -0.0 L64.1 -9.0 L66.9 -12.2 L70.7 -11.4 L73.1 3.1 L67.9 5.0 L66.9 1.3Z M154.8 98.4 L161.3 98.4 L161.3 114.3 L154.8 114.3Z M266.9 224.6 L272.5 224.6 L272.5 240.4 L269.7 240.4 L266.9 236.7Z M280.0 193.7 L285.6 193.7 L285.6 208.7 L282.8 208.7Z M324.0 130.0 L336.0 130.0 L336.0 135.0 L324.0 135.0Z M360.0 118.0 L378.0 118.0 L378.0 122.0 L360.0 122.0Z M219.0 100.0 L229.0 100.0 L229.0 104.0 L219.0 104.0Z M411.0 227.0 L424.0 227.0 L424.0 234.0 L411.0 234.0Z M460.0 330.0 L480.0 330.0 L480.0 334.0 L460.0 334.0Z M508.0 301.0 L524.0 301.0 L524.0 307.0 L508.0 307.0Z M297.0 314.0 L300.0 314.0 L300.0 338.0 L297.0 338.0Z M169.0 68.0 L174.0 68.0 L174.0 80.0 L169.0 80.0Z" fill="#fff"/></g>
<path d="M0.0 -0.0 L59.4 -0.0 L64.1 -9.0 L66.9 -12.2 L70.7 -11.4 L73.5 3.1 L76.3 11.5 L86.5 16.2 L101.5 22.8 L109.9 16.2 L118.3 17.1 L126.7 19.9 L137.0 24.6 L149.1 29.3 L158.5 35.8 L168.8 41.4 L176.2 35.3 L186.5 34.5 L189.3 37.7 L204.3 40.9 L222.0 42.0 L208.9 53.6 L201.5 57.3 L188.4 62.9 L183.7 69.5 L177.2 74.1 L174.4 81.6 L164.1 87.2 L162.2 94.7 L160.9 106.8 L172.5 104.0 L183.7 96.6 L189.3 105.9 L203.3 111.5 L217.4 99.4 L230.4 94.7 L243.5 88.2 L254.7 85.7 L265.9 93.2 L277.1 88.2 L284.6 94.7 L294.0 106.8 L308.9 108.7 L330.1 94.0 L346.9 94.9 L356.3 85.6 L362.8 99.6 L376.8 98.6 L385.2 109.8 L391.8 121.1 L381.5 122.9 L372.2 128.5 L372.2 134.1 L392.7 142.5 L410.5 148.2 L414.2 164.0 L422.6 172.4 L426.3 182.7 L425.4 199.5 L417.9 210.8 L410.5 222.9 L420.7 226.6 L428.2 218.2 L439.4 207.0 L450.6 217.3 L454.4 236.0 L461.8 250.9 L461.8 276.2 L450.6 277.1 L446.9 290.2 L441.3 304.2 L437.6 315.4 L439.4 322.9 L446.9 330.3 L458.1 332.2 L474.9 329.4 L491.7 326.6 L500.2 319.1 L504.8 307.0 L523.5 297.6 L530.1 303.8 L531.9 326.2 L534.7 344.9 L538.5 357.0 L532.9 363.6 L535.7 378.5 L533.8 397.2 L532.9 409.4 L508.6 429.9 L508.6 446.7 L497.4 445.8 L494.5 454.2 L493.6 473.8 L484.3 475.7 L478.7 469.2 L472.1 460.8 L461.8 470.1 L454.4 471.0 L444.1 469.2 L433.8 466.4 L420.7 453.3 L411.4 451.4 L407.7 454.2 L409.5 469.2 L390.8 472.0 L387.1 475.7 L389.9 484.1 L381.5 498.1 L372.2 513.1 L359.1 503.7 L353.5 518.7 L344.1 516.8 L335.7 527.1 L328.2 524.3 L319.8 520.6 L304.9 528.0 L305.8 543.0 L292.7 548.6 L291.8 565.4 L276.8 560.7 L269.4 571.0 L271.2 578.5 L270.3 592.5 L256.6 597.2 L254.7 606.5 L253.8 619.6 L243.5 621.5 L230.4 621.5 L236.0 613.0 L241.6 606.5 L240.7 601.8 L191.2 601.8 L190.3 603.7 L82.8 603.7 L82.8 473.8 L79.1 472.9 L74.4 465.4 L65.1 457.0 L69.7 451.4 L72.5 444.9 L63.2 441.1 L55.7 433.7 L49.2 419.6 L43.6 407.5 L41.7 397.2 L39.8 382.3 L38.0 366.4 L33.3 363.6 L32.4 346.8 L26.7 329.9 L18.3 313.1 L14.6 303.8 L17.4 296.3 L20.2 285.1 L20.2 281.6 L16.5 266.6 L19.3 266.2 L20.2 249.8 L23.4 244.2 L22.1 179.7 L9.0 166.6 L14.6 151.7 L18.3 150.8 L18.3 143.3 L15.5 120.9 L11.8 87.2 L6.2 36.8Z M372.2 129.5 L363.7 122.9 L350.7 120.1 L339.4 126.7 L327.3 139.7 L314.2 136.0 L303.9 145.4 L298.3 156.6 L293.7 173.4 L286.2 184.6 L286.2 205.1 L298.3 200.5 L298.3 225.7 L293.7 244.4 L289.9 270.6 L293.7 293.0 L297.4 311.7 L301.1 326.6 L308.6 341.6 L314.2 344.4 L325.4 336.9 L333.8 332.2 L339.4 321.0 L344.1 304.2 L344.1 278.0 L338.5 263.1 L329.2 246.3 L327.3 223.8 L333.8 212.6 L336.6 190.2 L344.1 179.0 L351.6 168.7 L359.1 179.9 L360.9 159.4 L371.2 153.8 L368.4 134.1Z" fill="none" stroke="#111" stroke-width="1.7" stroke-linejoin="round"/>
<path d="M16.5 266.6 L129.5 265.7 L184.6 262.9 M160.9 106.8 L151.0 106.8 L144.5 112.4 L147.3 119.0 L147.3 140.5 L137.0 149.8 L129.5 157.3 L132.3 163.8 L137.0 173.2 L135.1 180.7 L135.1 193.7 L132.3 199.3 L134.2 206.8 L146.3 216.2 L161.3 228.3 L178.1 239.5 L182.8 249.8 L185.6 262.9 L188.4 277.8 L191.2 296.5 L192.1 299.3 L204.3 304.0 L206.1 309.6 L215.5 318.7 L221.1 327.1 L221.1 343.0 L215.5 356.1 L196.8 362.6 L199.6 386.9 L186.5 412.2 L187.5 444.9 L198.7 453.3 L209.9 463.6 L215.5 481.3 L222.0 479.4 L231.4 483.2 L230.4 494.4 L225.8 512.1 L226.7 516.8 L243.5 529.9 L255.7 538.3 L258.5 554.2 L261.3 569.1 L268.7 571.0 M43.6 407.5 L92.2 404.7 L142.6 403.2 L172.5 401.9 L178.1 409.4 L186.5 412.2 M203.3 111.5 L208.9 121.8 L230.4 128.3 L273.4 138.6 L275.3 143.3 L282.8 148.9 L282.8 164.8 L290.2 165.7 L292.1 176.0 M206.1 308.5 L238.8 306.6 L295.8 304.3 M308.6 344.9 L311.4 389.7 L315.2 453.3 L311.4 463.6 L319.8 480.4 L306.7 503.7 L304.9 528.0 M329.2 334.6 L393.6 330.9 L437.6 322.5 M393.6 331.8 L399.2 389.7 L403.9 425.2 L407.7 454.2" fill="none" stroke="#000" stroke-width="1.9" stroke-linejoin="round"/>
</g>
<rect x="132.3" y="1024.9" width="165.0" height="51.09999999999991" fill="#f1f7ea"/>
<rect x="297.3" y="1024.9" width="165.0" height="51.09999999999991" fill="#cce6c7"/>
<rect x="462.3" y="1024.9" width="165.0" height="51.09999999999991" fill="#a8d7b2"/>
<rect x="627.3" y="1024.9" width="165.0" height="51.09999999999991" fill="#7bccc4"/>
<rect x="792.3" y="1024.9" width="165.0" height="51.09999999999991" fill="#3ea2cb"/>
<path d="M957.3 1024.9 L1032.3 1051.95 L957.3 1076Z" fill="#186bb0" stroke="#000" stroke-width="3.8" stroke-linejoin="miter" stroke-miterlimit="10"/>
<rect x="132.3" y="1024.9" width="825.0" height="51.09999999999991" fill="none" stroke="#000" stroke-width="3.8"/>
<path d="M297.3 1024.9 V1076" stroke="#000" stroke-width="3.8"/>
<path d="M462.3 1024.9 V1076" stroke="#000" stroke-width="3.8"/>
<path d="M627.3 1024.9 V1076" stroke="#000" stroke-width="3.8"/>
<path d="M792.3 1024.9 V1076" stroke="#000" stroke-width="3.8"/>
<text x="132.7" y="1116.0" font-size="38.6" letter-spacing="-0.6" text-anchor="middle">0.0</text>
<text x="297.0" y="1116.0" font-size="38.6" letter-spacing="-0.6" text-anchor="middle">0.8</text>
<text x="462.7" y="1116.0" font-size="38.6" letter-spacing="-0.6" text-anchor="middle">1.6</text>
<text x="626.5" y="1116.0" font-size="38.6" letter-spacing="-0.6" text-anchor="middle">2.4</text>
<text x="788.6" y="1116.0" font-size="38.6" letter-spacing="-0.6" text-anchor="middle">3.2</text>
<text x="957.0" y="1116.0" font-size="38.6" letter-spacing="-0.6" text-anchor="middle">4.0</text>
<rect x="1184.3" y="1024.9" width="165.0" height="51.09999999999991" fill="#f1f7ea"/>
<rect x="1349.3" y="1024.9" width="165.0" height="51.09999999999991" fill="#cce6c7"/>
<rect x="1514.3" y="1024.9" width="165.0" height="51.09999999999991" fill="#a8d7b2"/>
<rect x="1679.3" y="1024.9" width="165.0" height="51.09999999999991" fill="#7bccc4"/>
<rect x="1844.3" y="1024.9" width="165.0" height="51.09999999999991" fill="#3ea2cb"/>
<path d="M2009.3 1024.9 L2084.3 1051.95 L2009.3 1076Z" fill="#186bb0" stroke="#000" stroke-width="3.8" stroke-linejoin="miter" stroke-miterlimit="10"/>
<rect x="1184.3" y="1024.9" width="825.0" height="51.09999999999991" fill="none" stroke="#000" stroke-width="3.8"/>
<path d="M1349.3 1024.9 V1076" stroke="#000" stroke-width="3.8"/>
<path d="M1514.3 1024.9 V1076" stroke="#000" stroke-width="3.8"/>
<path d="M1679.3 1024.9 V1076" stroke="#000" stroke-width="3.8"/>
<path d="M1844.3 1024.9 V1076" stroke="#000" stroke-width="3.8"/>
<text x="1184.9" y="1116.0" font-size="38.6" letter-spacing="-0.6" text-anchor="middle">0.0</text>
<text x="1349.4" y="1116.0" font-size="38.6" letter-spacing="-0.6" text-anchor="middle">0.3</text>
<text x="1514.4" y="1116.0" font-size="38.6" letter-spacing="-0.6" text-anchor="middle">0.6</text>
<text x="1678.7" y="1116.0" font-size="38.6" letter-spacing="-0.6" text-anchor="middle">0.9</text>
<text x="1844.0" y="1116.0" font-size="38.6" letter-spacing="-0.6" text-anchor="middle">1.2</text>
<text x="2012.0" y="1116.0" font-size="38.6" letter-spacing="-0.6" text-anchor="middle">1.5</text>
<rect x="136.0" y="2097.3" width="165.0" height="51.19999999999982" fill="#f1f7ea"/>
<rect x="301.0" y="2097.3" width="165.0" height="51.19999999999982" fill="#cce6c7"/>
<rect x="466.0" y="2097.3" width="165.0" height="51.19999999999982" fill="#a8d7b2"/>
<rect x="631.0" y="2097.3" width="165.0" height="51.19999999999982" fill="#7bccc4"/>
<rect x="796.0" y="2097.3" width="165.0" height="51.19999999999982" fill="#3ea2cb"/>
<path d="M961.0 2097.3 L1036.0 2124.4 L961.0 2148.5Z" fill="#186bb0" stroke="#000" stroke-width="3.8" stroke-linejoin="miter" stroke-miterlimit="10"/>
<rect x="136.0" y="2097.3" width="825.0" height="51.19999999999982" fill="none" stroke="#000" stroke-width="3.8"/>
<path d="M301.0 2097.3 V2148.5" stroke="#000" stroke-width="3.8"/>
<path d="M466.0 2097.3 V2148.5" stroke="#000" stroke-width="3.8"/>
<path d="M631.0 2097.3 V2148.5" stroke="#000" stroke-width="3.8"/>
<path d="M796.0 2097.3 V2148.5" stroke="#000" stroke-width="3.8"/>
<text x="137.0" y="2188.5" font-size="38.6" letter-spacing="-0.6" text-anchor="middle">0.0</text>
<text x="302.0" y="2188.5" font-size="38.6" letter-spacing="-0.6" text-anchor="middle">0.2</text>
<text x="466.0" y="2188.5" font-size="38.6" letter-spacing="-0.6" text-anchor="middle">0.4</text>
<text x="630.3" y="2188.5" font-size="38.6" letter-spacing="-0.6" text-anchor="middle">0.6</text>
<text x="797.6" y="2188.5" font-size="38.6" letter-spacing="-0.6" text-anchor="middle">0.8</text>
<text x="957.9" y="2188.5" font-size="38.6" letter-spacing="-0.6" text-anchor="middle">1.0</text>
<rect x="1188.6" y="2097.3" width="165.0" height="51.19999999999982" fill="#7fcdc0"/>
<rect x="1353.6" y="2097.3" width="165.0" height="51.19999999999982" fill="#c7e8e5"/>
<rect x="1518.6" y="2097.3" width="165.0" height="51.19999999999982" fill="#f6e9c5"/>
<rect x="1683.6" y="2097.3" width="165.0" height="51.19999999999982" fill="#dfc17e"/>
<rect x="1848.6" y="2097.3" width="165.0" height="51.19999999999982" fill="#bf842e"/>
<path d="M2013.6 2097.3 L2088.6 2124.4 L2013.6 2148.5Z" fill="#8c5424" stroke="#000" stroke-width="3.8" stroke-linejoin="miter" stroke-miterlimit="10"/>
<rect x="1188.6" y="2097.3" width="825.0" height="51.19999999999982" fill="none" stroke="#000" stroke-width="3.8"/>
<path d="M1353.6 2097.3 V2148.5" stroke="#000" stroke-width="3.8"/>
<path d="M1518.6 2097.3 V2148.5" stroke="#000" stroke-width="3.8"/>
<path d="M1683.6 2097.3 V2148.5" stroke="#000" stroke-width="3.8"/>
<path d="M1848.6 2097.3 V2148.5" stroke="#000" stroke-width="3.8"/>
<text x="1192.5" y="2188.5" font-size="38.6" letter-spacing="-0.6" text-anchor="middle">-2</text>
<text x="1352.0" y="2188.5" font-size="38.6" letter-spacing="-0.6" text-anchor="middle">-1</text>
<text x="1520.2" y="2188.5" font-size="38.6" letter-spacing="-0.6" text-anchor="middle">0</text>
<text x="1685.8" y="2188.5" font-size="38.6" letter-spacing="-0.6" text-anchor="middle">1</text>
<text x="1851.2" y="2188.5" font-size="38.6" letter-spacing="-0.6" text-anchor="middle">2</text>
<text x="2007.9" y="2188.5" font-size="38.6" letter-spacing="-0.6" text-anchor="middle">3</text>
</svg></body></html>
